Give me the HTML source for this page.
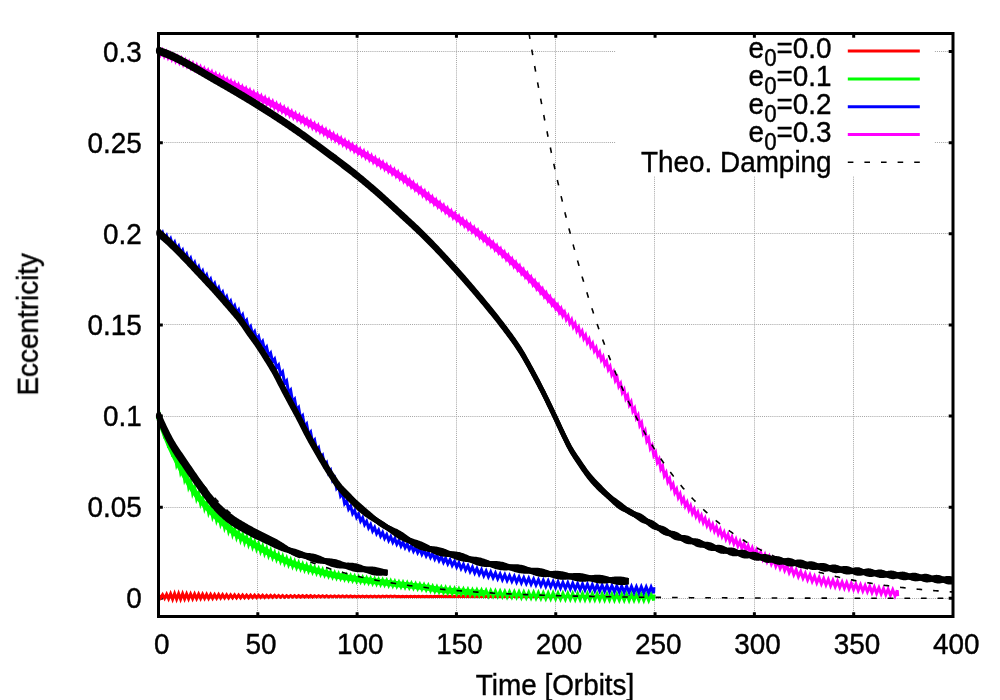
<!DOCTYPE html>
<html><head><meta charset="utf-8"><title>Eccentricity damping</title>
<style>html,body{margin:0;padding:0;background:#fff;}svg{display:block;}text{font-family:"Liberation Sans",sans-serif;}</style></head>
<body>
<svg width="1000" height="700" viewBox="0 0 1000 700"><g stroke="#a4a4a4" stroke-width="1" stroke-dasharray="1 1.083" fill="none"><line x1="257.5" y1="35.0" x2="257.5" y2="615.0"/><line x1="357.5" y1="35.0" x2="357.5" y2="615.0"/><line x1="456.5" y1="35.0" x2="456.5" y2="615.0"/><line x1="555.5" y1="35.0" x2="555.5" y2="615.0"/><line x1="654.5" y1="35.0" x2="654.5" y2="615.0"/><line x1="754.5" y1="35.0" x2="754.5" y2="615.0"/><line x1="853.5" y1="35.0" x2="853.5" y2="615.0"/><line x1="160.0" y1="598.5" x2="952.0" y2="598.5"/><line x1="160.0" y1="507.5" x2="952.0" y2="507.5"/><line x1="160.0" y1="416.5" x2="952.0" y2="416.5"/><line x1="160.0" y1="324.5" x2="952.0" y2="324.5"/><line x1="160.0" y1="233.5" x2="952.0" y2="233.5"/><line x1="160.0" y1="142.5" x2="952.0" y2="142.5"/><line x1="160.0" y1="51.5" x2="952.0" y2="51.5"/></g>
<rect x="616" y="36" width="318" height="140" fill="#fff"/>
<path d="M257.81 616.5v-4.3M257.81 33.5v4.3M357.12 616.5v-4.3M357.12 33.5v4.3M456.44 616.5v-4.3M456.44 33.5v4.3M555.75 616.5v-4.3M555.75 33.5v4.3M655.06 616.5v-4.3M655.06 33.5v4.3M754.38 616.5v-4.3M754.38 33.5v4.3M853.69 616.5v-4.3M853.69 33.5v4.3M158.5 598.30h4.3M953.0 598.30h-4.3M158.5 507.17h4.3M953.0 507.17h-4.3M158.5 416.04h4.3M953.0 416.04h-4.3M158.5 324.91h4.3M953.0 324.91h-4.3M158.5 233.78h4.3M953.0 233.78h-4.3M158.5 142.65h4.3M953.0 142.65h-4.3M158.5 51.52h4.3M953.0 51.52h-4.3" stroke="#000" stroke-width="3" fill="none"/>
<polyline fill="none" stroke="#ff0000" stroke-width="3" stroke-linejoin="miter" points="158.6,595.0 160.6,597.9 162.6,594.7 164.6,598.3 166.6,594.3 168.6,598.7 170.6,593.9 172.6,599.1 174.6,593.6 176.6,599.2 178.6,593.7 180.6,599.1 182.6,593.8 184.6,598.9 186.6,593.9 188.6,598.8 190.6,594.0 192.6,598.7 194.6,594.1 196.6,598.6 198.6,594.2 200.6,598.5 202.6,594.3 204.6,598.4 206.6,594.4 208.6,598.4 210.6,594.5 212.6,598.3 214.6,594.6 216.6,598.2 218.6,594.6 220.6,598.1 222.6,594.7 224.6,598.0 226.6,594.8 228.6,598.0 230.6,594.9 232.6,597.9 234.6,594.9 236.6,597.8 238.6,595.0 240.6,597.8 242.6,595.0 244.6,597.7 246.6,595.1 248.6,597.7 250.6,595.2 252.6,597.6 254.6,595.2 256.6,597.6 258.6,595.3 260.6,597.5 262.6,595.3 264.6,597.5 266.6,595.4 268.6,597.4 270.6,595.4 272.6,597.4 274.6,595.4 276.6,597.3 278.6,595.5 280.6,597.3 282.6,595.5 284.6,597.3 286.6,595.6 288.6,597.2 290.6,595.6 292.6,597.2 294.6,595.6 296.6,597.2 298.6,595.7 300.6,597.1 302.6,595.7 304.6,597.1 306.6,595.7 308.6,597.1 310.6,595.7 312.6,597.1 314.6,595.8 316.6,597.0 318.6,595.8 320.6,597.0 322.6,595.8 324.6,597.0 326.6,595.8 328.6,597.0 330.6,595.9 332.6,596.9 334.6,595.9 336.6,596.9 338.6,595.9 340.6,596.9 342.6,595.9 344.6,596.9 346.6,596.0 348.6,596.9 350.6,596.0 352.6,596.8 354.6,596.0 356.6,596.8 358.6,596.0 360.6,596.8 362.6,596.0 364.6,596.8 366.6,596.0 368.6,596.8 370.6,596.1 372.6,596.8 374.6,596.1 376.6,596.8 378.6,596.1 380.6,596.8 382.6,596.1 384.6,596.7 386.6,596.1 388.6,596.7 390.6,596.1 392.6,596.7 394.6,596.1 396.6,596.7 398.6,596.2 400.6,596.7 402.6,596.2 404.6,596.7 406.6,596.2 408.6,596.7 410.6,596.2 412.6,596.7 414.6,596.2 416.6,596.7 418.6,596.2 420.6,596.7 422.6,596.2 424.6,596.7 426.6,596.2 428.6,596.7 430.6,596.2 432.6,596.6 434.6,596.2 436.6,596.6 438.6,596.3 440.6,596.6 442.6,596.3 444.6,596.6 446.6,596.3 448.6,596.6 450.6,596.3 452.6,596.6 454.6,596.3 456.6,596.6 458.6,596.3 460.6,596.6 462.6,596.3 464.6,596.6 466.6,596.3 468.6,596.6 470.6,596.3 472.6,596.6 474.6,596.3 476.6,596.6 478.6,596.3 480.6,596.6 482.6,596.3 484.6,596.6 486.6,596.3 488.6,596.6 490.6,596.3 492.6,596.6 494.6,596.3 496.6,596.6 498.6,596.4 500.6,596.6 502.6,596.4 504.6,596.6 506.6,596.4 508.6,596.6 510.6,596.4 512.6,596.6 514.6,596.4 516.6,596.6 518.6,596.4 520.6,596.6 522.6,596.4 524.6,596.6 526.6,596.4 528.6,596.6 530.6,596.4 532.6,596.6 534.6,596.4 536.6,596.6 538.6,596.4 540.6,596.6 542.6,596.4 544.6,596.6 546.6,596.4 548.6,596.6 550.6,596.4 552.6,596.6 554.6,596.4 556.6,596.6 558.6,596.4 560.6,596.6 562.6,596.4 564.6,596.6 566.6,596.4 568.6,596.6 570.6,596.4 572.6,596.6 574.6,596.5 576.6,596.6 578.6,596.5 580.6,596.6 582.6,596.5 584.6,596.6 586.6,596.5 588.6,596.6 590.6,596.5 592.6,596.6 594.6,596.5 596.6,596.6 598.6,596.5 600.6,596.6 602.6,596.5 604.6,596.6 606.6,596.5 608.6,596.6 610.6,596.5 612.6,596.6 614.6,596.5 616.6,596.6 618.6,596.5 620.6,596.6 622.6,596.5 624.6,596.6 626.6,596.5 628.6,596.6 630.6,596.5 632.6,596.6 634.6,596.5 636.6,596.6 638.6,596.5 640.6,596.7 642.6,596.5 644.6,596.7 646.6,596.5 648.6,596.7 650.6,596.5 652.6,596.7 654.6,596.5 655.0,596.7"/>
<polyline fill="none" stroke="#00ff00" stroke-width="6" stroke-linejoin="round" points="158.6,416.1 160.6,421.8 162.6,427.4 164.6,432.7 166.6,437.8 168.6,442.7 170.6,447.4 172.6,451.8 174.6,455.9 176.6,460.0 178.6,463.9 180.6,467.7 182.6,471.5 184.6,475.2 186.6,478.9 188.6,482.5 190.6,485.9 192.6,489.0 194.6,492.0 196.6,494.8 198.6,497.4 200.6,499.9 202.6,502.3 204.6,504.7 206.6,506.9 208.6,509.0 210.6,511.1 212.6,513.1 214.6,515.1 216.6,517.0 218.6,518.8 220.6,520.6 222.6,522.4 224.6,524.2 226.6,525.9 228.6,527.7 230.6,529.4 232.6,531.1 234.6,532.7 236.6,534.1 238.6,535.5 240.6,536.7 242.6,537.9 244.6,539.1 246.6,540.3 248.6,541.4 250.6,542.5 252.6,543.7 254.6,544.9 256.6,546.0 258.6,547.2 260.6,548.3 262.6,549.4 264.6,550.5 266.6,551.5 268.6,552.6 270.6,553.6 272.6,554.6 274.6,555.6 276.6,556.5 278.6,557.5 280.6,558.4 282.6,559.4 284.6,560.3 286.6,561.1 288.6,562.0 290.6,562.7 292.6,563.5 294.6,564.2 296.6,564.9 298.6,565.5 300.6,566.1 302.6,566.7 304.6,567.3 306.6,567.9 308.6,568.4 310.6,569.0 312.6,569.5 314.6,570.1 316.6,570.6 318.6,571.2 320.6,571.7 322.6,572.3 324.6,572.8 326.6,573.3 328.6,573.8 330.6,574.3 332.6,574.7 334.6,575.2 336.6,575.6 338.6,576.0 340.6,576.3 342.6,576.7 344.6,577.0 346.6,577.4 348.6,577.7 350.6,578.0 352.6,578.3 354.6,578.6 356.6,578.9 358.6,579.2 360.6,579.5 362.6,579.8 364.6,580.0 366.6,580.3 368.6,580.5 370.6,580.8 372.6,581.0 374.6,581.3 376.6,581.5 378.6,581.8 380.6,582.1 382.6,582.3 384.6,582.5 386.6,582.8 388.6,583.0 390.6,583.3 392.6,583.5 394.6,583.8 396.6,584.0 398.6,584.2 400.6,584.5 402.6,584.7 404.6,584.9 406.6,585.1 408.6,585.3 410.6,585.5 412.6,585.8 414.6,586.0 416.6,586.2 418.6,586.4 420.6,586.7 422.6,587.0 424.6,587.3 426.6,587.6 428.6,587.9 430.6,588.3 432.6,588.6 434.6,589.0 436.6,589.3 438.6,589.5 440.6,589.8 442.6,590.0 444.6,590.2 446.6,590.4 448.6,590.5 450.6,590.7 452.6,590.9 454.6,591.1 456.6,591.2 458.6,591.4 460.6,591.5 462.6,591.7 464.6,591.8 466.6,591.9 468.6,592.1 470.6,592.2 472.6,592.3 474.6,592.4 476.6,592.6 478.6,592.7 480.6,592.8 482.6,592.9 484.6,593.0"/>
<polyline fill="none" stroke="#00ff00" stroke-width="3" stroke-linejoin="miter" points="158.6,410.3 160.6,427.5 162.6,421.8 164.6,438.2 166.6,432.6 168.6,447.9 170.6,442.4 172.6,456.6 174.6,451.2 176.6,464.6 178.6,459.3 180.6,472.2 182.6,466.9 184.6,479.7 186.6,474.4 188.6,486.9 190.6,481.6 192.6,493.2 194.6,487.9 196.6,498.7 198.6,493.5 200.6,503.8 202.6,498.5 204.6,508.5 206.6,503.1 208.6,512.8 210.6,507.4 212.6,516.8 214.6,511.4 216.6,520.6 218.6,515.2 220.6,524.2 222.6,518.8 224.6,527.8 226.6,522.3 228.6,531.3 230.6,525.8 232.6,534.7 234.6,529.2 236.6,537.6 238.6,532.0 240.6,540.2 242.6,534.5 244.6,542.5 246.6,536.9 248.6,544.7 250.6,539.2 252.6,547.0 254.6,541.6 256.6,549.2 258.6,543.9 260.6,551.5 262.6,546.2 264.6,553.6 266.6,548.4 268.6,555.7 270.6,550.5 272.6,557.6 274.6,552.6 276.6,559.5 278.6,554.5 280.6,561.4 282.6,556.4 284.6,563.2 286.6,558.3 288.6,564.8 290.6,559.9 292.6,566.3 294.6,561.4 296.6,567.6 298.6,562.8 300.6,568.8 302.6,564.1 304.6,570.0 306.6,565.2 308.6,571.1 310.6,566.4 312.6,572.1 314.6,567.5 316.6,573.2 318.6,568.7 320.6,574.2 322.6,569.8 324.6,575.2 326.6,570.9 328.6,576.2 330.6,571.9 332.6,577.1 334.6,572.8 336.6,577.9 338.6,573.7 340.6,578.6 342.6,574.4 344.6,579.3 346.6,575.1 348.6,580.0 350.6,575.7 352.6,580.6 354.6,576.3 356.6,581.2 358.6,576.9 360.6,581.8 362.6,577.5 364.6,582.3 366.6,578.0 368.6,582.8 370.6,578.5 372.6,583.4 374.6,579.0 376.6,583.9 378.6,579.5 380.6,584.4 382.6,580.0 384.6,584.9 386.7,580.5 388.7,585.4 390.7,581.0 392.8,585.8 394.8,581.5 396.8,586.3 398.9,582.0 401.0,586.8 403.0,582.4 405.1,587.3 407.2,582.9 409.3,587.7 411.4,583.3 413.5,588.2 415.6,583.8 417.7,588.6 419.8,584.3 421.9,589.2 424.0,584.8 426.2,589.9 428.3,585.5 430.5,590.6 432.6,586.3 434.8,591.4 436.9,586.9 439.1,592.0 441.3,587.4 443.5,592.5 445.6,587.8 447.8,592.9 450.0,588.2 452.2,593.3 454.5,588.6 456.7,593.7 458.9,588.9 461.1,594.0 463.4,589.2 465.6,594.4 467.9,589.5 470.1,594.7 472.4,589.8 474.7,595.0 476.9,590.0 479.2,595.3 481.5,590.3 483.8,595.6 486.1,590.5 488.4,595.9 490.7,590.7 493.1,596.1 495.4,591.0 497.7,596.4 500.1,591.2 502.4,596.6 504.8,591.4 507.1,596.9 509.5,591.6 511.9,597.1 514.3,591.8 516.6,597.3 519.0,591.9 521.4,597.6 523.8,592.1 526.3,597.8 528.7,592.3 531.1,598.0 533.6,592.4 536.0,598.2 538.4,592.6 540.9,598.4 543.3,592.8 545.8,598.6 548.2,592.9 550.7,598.8 553.1,593.0 555.6,598.9 558.0,593.2 560.5,599.1 562.9,593.3 565.4,599.3 567.8,593.4 570.3,599.4 572.7,593.5 575.2,599.5 577.6,593.6 580.1,599.6 582.5,593.7 585.0,599.7 587.4,593.8 589.9,599.8 592.3,593.9 594.8,599.9 597.2,593.9 599.7,600.0 602.1,594.0 604.6,600.1 607.0,594.1 609.5,600.1 611.9,594.2 614.4,600.2 616.8,594.2 619.3,600.3 621.7,594.3 624.2,600.3 626.6,594.3 629.1,600.4 631.5,594.4 634.0,600.4 636.4,594.4 638.9,600.4 641.3,594.5 643.8,600.5 646.2,594.5 648.7,600.5 651.1,594.5 653.6,600.5 653.9,594.5"/>
<polyline fill="none" stroke="#0000ff" stroke-width="3" stroke-linejoin="miter" points="158.6,230.1 160.6,236.2 162.6,232.7 164.6,239.0 166.6,235.6 168.6,242.1 170.6,238.7 172.6,245.5 174.6,242.2 176.6,249.2 178.6,246.1 180.6,253.2 182.6,250.1 184.6,257.3 186.6,254.1 188.6,261.3 190.6,258.2 192.6,265.5 194.6,262.4 196.6,269.7 198.6,266.6 200.6,273.9 202.6,270.8 204.6,278.0 206.6,274.9 208.6,282.2 210.6,279.1 212.6,286.4 214.6,283.3 216.6,290.7 218.6,287.6 220.6,295.0 222.6,292.0 224.6,299.5 226.6,296.5 228.6,304.0 230.6,301.0 232.6,308.5 234.6,305.5 236.6,313.0 238.6,310.0 240.6,317.8 242.6,314.8 244.6,323.0 246.6,320.3 248.6,329.3 250.6,326.5 252.6,334.7 254.6,331.7 256.6,339.5 258.6,336.5 260.6,344.4 262.6,341.5 264.6,349.9 266.6,347.1 268.6,355.8 270.6,353.1 272.6,361.8 274.6,359.0 276.6,367.7 278.6,365.0 280.6,374.5 282.6,371.9 284.6,383.2 286.6,380.8 288.6,392.4 290.6,390.0 292.6,401.6 294.6,399.2 296.6,410.1 298.6,407.6 300.6,418.3 302.6,415.8 304.6,426.5 306.6,424.0 308.6,434.6 310.6,432.1 312.6,442.5 314.6,440.0 316.6,450.4 318.6,447.8 320.6,458.0 322.6,455.5 324.6,465.5 326.6,462.9 328.6,472.9 330.6,470.3 332.6,480.4 334.6,477.9 336.6,488.1 338.6,485.5 340.6,496.0 342.6,493.5 344.6,503.6 346.6,500.9 348.6,509.1 350.6,506.1 352.6,513.5 354.6,510.4 356.6,517.4 358.6,514.2 360.6,521.1 362.6,517.8 364.6,524.6 366.6,521.3 368.6,527.9 370.6,524.5 372.6,530.9 374.6,527.4 376.6,533.6 378.6,530.1 380.6,536.1 382.6,532.5 384.6,538.3 386.7,534.6 388.7,540.4 390.7,536.6 392.8,542.3 394.8,538.5 396.8,544.2 398.9,540.4 401.0,546.0 403.0,542.2 405.1,547.7 407.2,543.9 409.3,549.4 411.4,545.6 413.5,551.1 415.6,547.2 417.7,552.7 419.8,548.8 421.9,554.3 424.0,550.4 426.2,555.9 428.3,552.0 430.5,557.5 432.6,553.5 434.8,559.1 436.9,555.1 439.1,560.7 441.3,556.6 443.5,562.3 445.6,558.2 447.8,563.9 450.0,559.7 452.2,565.5 454.5,561.3 456.7,567.1 458.9,562.8 461.1,568.6 463.4,564.3 465.6,570.1 467.9,565.7 470.1,571.6 472.4,567.2 474.7,573.0 476.9,568.5 479.2,574.4 481.5,569.8 483.8,575.7 486.1,571.0 488.4,576.8 490.7,572.0 493.1,577.8 495.4,573.0 497.7,578.8 500.1,573.9 502.4,579.7 504.8,574.8 507.1,580.6 509.5,575.6 511.9,581.4 514.3,576.3 516.6,582.2 519.0,577.0 521.4,582.9 523.8,577.7 526.3,583.6 528.7,578.3 531.1,584.3 533.6,579.0 536.0,585.0 538.4,579.7 540.9,585.7 543.3,580.3 545.8,586.4 548.2,580.9 550.7,587.0 553.1,581.5 555.6,587.6 558.0,582.0 560.5,588.1 562.9,582.4 565.4,588.5 567.8,582.8 570.3,589.0 572.7,583.2 575.2,589.4 577.6,583.6 580.1,589.8 582.5,583.9 585.0,590.1 587.4,584.3 589.9,590.4 592.3,584.6 594.8,590.7 597.2,584.9 599.7,591.0 602.1,585.2 604.6,591.3 607.0,585.4 609.5,591.5 611.9,585.7 614.4,591.8 616.8,585.9 619.3,592.0 621.7,586.1 624.2,592.2 626.6,586.3 629.1,592.4 631.5,586.5 634.0,592.6 636.4,586.7 638.9,592.8 641.3,586.8 643.8,592.9 646.2,587.0 648.7,593.1 651.1,587.1 653.6,593.2 653.9,587.2"/>
<polyline fill="none" stroke="#ff00ff" stroke-width="6" stroke-linejoin="round" points="158.6,51.4 160.6,52.2 162.6,53.1 164.6,53.9 166.6,54.7 168.6,55.6 170.6,56.4 172.6,57.3 174.6,58.2 176.6,59.0 178.6,59.9 180.6,60.7 182.6,61.6 184.6,62.5 186.6,63.4 188.6,64.2 190.6,65.1 192.6,66.0 194.6,66.9 196.6,67.8 198.6,68.7 200.6,69.6 202.6,70.5 204.6,71.4 206.6,72.3 208.6,73.2 210.6,74.1 212.6,75.1 214.6,76.0 216.6,76.9 218.6,77.8 220.6,78.8 222.6,79.7 224.6,80.7 226.6,81.6 228.6,82.6 230.6,83.5 232.6,84.5 234.6,85.4 236.6,86.4 238.6,87.4 240.6,88.3 242.6,89.3 244.6,90.3 246.6,91.3 248.6,92.3 250.6,93.2 252.6,94.2 254.6,95.2 256.6,96.2 258.6,97.2 260.6,98.2 262.6,99.2 264.6,100.2 266.6,101.2 268.6,102.2 270.6,103.2 272.6,104.2 274.6,105.2 276.6,106.2 278.6,107.3 280.6,108.3 282.6,109.3 284.6,110.4 286.6,111.4 288.6,112.4 290.6,113.5 292.6,114.5 294.6,115.6 296.6,116.6 298.6,117.7 300.6,118.7 302.6,119.8 304.6,120.9 306.6,121.9 308.6,123.0 310.6,124.1 312.6,125.2 314.6,126.2 316.6,127.3 318.6,128.4 320.6,129.5 322.6,130.6 324.6,131.7 326.6,132.8 328.6,134.0 330.6,135.1 332.6,136.2 334.6,137.3 336.6,138.4 338.6,139.5 340.6,140.7 342.6,141.8 344.6,142.9 346.6,144.1 348.6,145.2 350.6,146.3 352.6,147.5 354.6,148.6 356.6,149.8 358.6,150.9 360.6,152.1 362.6,153.2 364.6,154.4 366.6,155.5 368.6,156.7 370.6,157.9 372.6,159.1 374.6,160.2 376.6,161.4 378.6,162.6 380.6,163.9 382.6,165.1 384.6,166.3 386.6,167.5 388.6,168.8 390.6,170.0 392.6,171.3 394.6,172.6 396.6,173.8 398.6,175.2 400.6,176.5 402.6,177.8 404.6,179.2 406.6,180.6 408.6,182.0 410.6,183.5 412.6,185.0 414.6,186.5 416.6,188.0 418.6,189.5 420.6,190.9 422.6,192.4 424.6,193.9 426.6,195.4 428.6,197.0 430.6,198.5 432.6,200.0 434.6,201.5 436.6,203.0 438.6,204.5 440.6,205.9 442.6,207.4 444.6,208.8 446.6,210.3 448.6,211.7 450.6,213.1 452.6,214.6 454.6,216.0 456.6,217.4 458.6,218.9 460.6,220.3 462.6,221.8 464.6,223.3 466.6,224.7 468.6,226.2 470.6,227.7 472.6,229.2 474.6,230.7 476.6,232.2 478.6,233.7 480.6,235.3 482.6,236.8 484.6,238.4 486.6,240.0 488.6,241.6 490.6,243.3 492.6,244.9 494.6,246.5 496.6,248.2 498.6,249.9 500.6,251.6 502.6,253.3 504.6,255.1 506.6,256.8 508.6,258.6 510.6,260.4 512.6,262.2 514.6,264.1 516.6,265.9 518.6,267.8 520.6,269.7 522.6,271.7 524.6,273.6 526.6,275.5 528.6,277.5 530.6,279.5 532.6,281.5 534.6,283.5 536.6,285.6 538.6,287.7 540.6,289.8 542.6,291.9 544.6,294.0 546.6,296.1 548.6,298.3 550.6,300.4 552.6,302.5 554.6,304.6 556.6,306.7 558.6,308.8 560.6,310.9 562.6,312.9 564.6,315.0"/>
<polyline fill="none" stroke="#ff00ff" stroke-width="3" stroke-linejoin="miter" points="158.6,49.1 160.5,54.5 162.4,50.6 164.3,56.1 166.2,52.2 168.1,57.7 170.0,53.8 171.9,59.3 173.8,55.5 175.7,61.0 177.6,57.1 179.5,62.6 181.4,58.7 183.3,64.3 185.2,60.4 187.1,65.9 189.0,62.1 190.9,67.6 192.8,63.7 194.7,69.3 196.6,65.4 198.5,71.0 200.4,67.1 202.3,72.7 204.2,68.9 206.1,74.4 208.0,70.6 209.9,76.2 211.8,72.3 213.7,77.9 215.6,74.1 217.5,79.7 219.4,75.9 221.3,81.5 223.2,77.6 225.1,83.3 227.0,79.4 228.9,85.1 230.8,81.3 232.7,86.9 234.6,83.1 236.5,88.7 238.4,84.9 240.3,90.6 242.2,86.8 244.1,92.4 246.0,88.6 247.9,94.3 249.8,90.5 251.7,96.2 253.6,92.4 255.5,98.0 257.4,94.2 259.3,99.9 261.2,96.1 263.1,101.8 265.0,98.0 266.9,103.7 268.8,99.9 270.7,105.6 272.6,101.8 274.5,107.6 276.4,103.8 278.3,109.5 280.2,105.7 282.1,111.4 284.0,107.7 285.9,113.4 287.8,109.6 289.7,115.4 291.6,111.6 293.5,117.4 295.4,113.6 297.3,119.4 299.2,115.6 301.1,121.4 303.0,117.6 304.9,123.4 306.8,119.6 308.7,125.4 310.6,121.7 312.5,127.5 314.4,123.8 316.3,129.6 318.2,125.8 320.1,131.6 322.0,127.9 323.9,133.7 325.8,130.0 327.7,135.8 329.6,132.1 331.5,138.0 333.4,134.2 335.3,140.1 337.2,136.4 339.1,142.2 341.0,138.5 342.9,144.4 344.8,140.7 346.7,146.5 348.6,142.8 350.5,148.7 352.4,145.0 354.3,150.8 356.2,147.1 358.1,153.0 360.0,149.3 361.9,155.2 363.8,151.5 365.7,157.4 367.6,153.7 369.5,159.6 371.4,155.9 373.3,161.9 375.2,158.2 377.1,164.1 379.0,160.5 380.9,166.5 382.8,162.8 384.7,168.8 386.6,165.1 388.5,171.1 390.4,167.5 392.3,173.5 394.2,169.9 396.1,175.9 398.0,172.3 399.9,178.4 401.8,174.9 403.7,181.0 405.6,177.4 407.5,183.7 409.4,180.2 411.3,186.5 413.2,183.0 415.1,189.3 417.0,185.8 418.9,192.1 420.8,188.6 422.7,195.0 424.6,191.5 426.5,197.8 428.4,194.3 430.3,200.7 432.2,197.2 434.1,203.6 436.0,200.1 437.9,206.4 439.8,202.9 441.7,209.2 443.6,205.7 445.5,211.9 447.4,208.4 449.3,214.6 451.2,211.1 453.1,217.4 455.0,213.8 456.9,220.1 458.8,216.6 460.7,222.8 462.6,219.3 464.5,225.6 466.4,222.1 468.3,228.5 470.2,225.0 472.1,231.3 474.0,227.8 475.9,234.1 477.8,230.7 479.7,237.1 481.6,233.6 483.5,240.0 485.4,236.6 487.3,243.1 489.2,239.6 491.1,246.1 493.0,242.7 494.9,249.3 496.8,245.9 498.7,252.5 500.6,249.1 502.5,255.7 504.4,252.4 506.3,259.1 508.2,255.7 510.1,262.5 512.0,259.1 513.9,266.0 515.8,262.6 517.7,269.5 519.6,266.2 521.5,273.1 523.4,269.9 525.3,276.8 527.2,273.6 529.1,280.6 531.0,277.3 532.9,284.4 534.8,281.2 536.7,288.3 538.6,285.1 540.5,292.3 542.4,289.1 544.3,296.3 546.2,293.1 548.1,300.3 550.0,297.1 551.9,304.4 553.8,301.2 555.7,308.4 557.6,305.2 559.3,312.2 561.1,308.8 562.8,315.8 564.6,312.4 566.3,319.4 568.1,316.1 569.8,323.1 571.6,319.7 573.3,326.8 575.1,323.5 576.8,330.7 578.6,327.3 580.3,334.5 582.1,331.2 583.8,338.5 585.6,335.2 587.3,342.5 589.1,339.2 590.8,346.6 592.6,343.4 594.3,350.9 596.1,347.7 597.8,355.3 599.6,352.1 601.3,359.9 603.1,356.7 604.8,364.6 606.6,361.5 608.3,369.6 610.1,366.5 611.8,374.8 613.6,371.7 615.3,380.5 617.1,377.4 618.8,386.4 620.6,383.4 622.3,392.5 624.1,389.5 625.8,398.7 627.6,395.6 629.3,404.9 631.1,401.8 632.8,411.3 634.6,408.2 636.3,418.0 638.1,415.0 639.8,425.5 641.6,422.5 643.3,433.4 645.1,430.4 646.8,441.2 648.6,438.1 650.3,448.4 652.1,445.4 653.8,455.4 655.6,452.4 657.3,462.3 659.1,459.2 660.8,469.1 662.6,466.0 664.3,475.8 666.1,472.6 667.8,481.8 669.6,478.6 671.3,487.3 673.1,484.0 674.8,492.6 676.6,489.2 678.3,497.5 680.1,494.0 681.8,502.0 683.6,498.4 685.3,506.0 687.1,502.3 688.9,509.7 690.6,505.9 692.4,513.2 694.2,509.3 696.0,516.4 697.8,512.5 699.6,519.5 701.4,515.6 703.3,522.5 705.1,518.5 707.0,525.5 708.8,521.4 710.7,528.4 712.6,524.3 714.5,531.2 716.4,527.0 718.3,533.9 720.2,529.7 722.1,536.5 724.1,532.3 726.0,539.1 728.0,534.7 729.9,541.5 731.9,537.1 733.9,543.8 735.9,539.3 737.9,546.0 739.9,541.5 741.9,548.2 744.0,543.6 746.0,550.3 748.1,545.7 750.2,552.5 752.2,547.8 754.3,554.7 756.4,550.0 758.5,557.0 760.7,552.3 762.8,559.3 764.9,554.6 767.1,561.6 769.3,556.8 771.4,563.9 773.6,559.1 775.8,566.2 778.0,561.3 780.2,568.3 782.5,563.5 784.7,570.5 787.0,565.6 789.2,572.7 791.5,567.8 793.8,574.7 796.1,569.8 798.4,576.6 800.7,571.6 803.0,578.3 805.3,573.3 807.6,579.9 809.9,574.8 812.2,581.4 814.5,576.3 816.8,582.8 819.1,577.5 821.4,583.9 823.7,578.6 826.0,584.9 828.3,579.5 830.6,585.8 832.9,580.4 835.2,586.6 837.5,581.2 839.8,587.4 842.1,582.0 844.4,588.2 846.7,582.7 849.0,588.9 851.3,583.4 853.6,589.5 855.9,584.1 858.2,590.3 860.5,584.8 862.8,591.0 865.1,585.6 867.4,591.8 869.7,586.4 872.0,592.6 874.3,587.1 876.6,593.3 878.9,587.8 881.2,594.0 883.5,588.5 885.8,594.7 888.1,589.2 890.4,595.3 892.7,589.8 895.0,595.9 897.3,590.3 897.7,596.2"/>
<polyline fill="none" stroke="#000" stroke-width="1.6" stroke-dasharray="5.6 11" points="158.5,416.0 160.5,419.8 162.5,423.6 164.5,427.2 166.5,430.8 168.5,434.3 170.4,437.7 172.4,441.1 174.4,444.4 176.4,447.6 178.4,450.7 180.4,453.8 182.4,456.8 184.4,459.8 186.4,462.7 188.4,465.5 190.4,468.3 192.4,471.0 194.3,473.7 196.3,476.3 198.3,478.8 200.3,481.3 202.3,483.8 204.3,486.2 206.3,488.5 208.3,490.8 210.3,493.1 212.3,495.3 214.3,497.4 216.2,499.5 218.2,501.6 220.2,503.6 222.2,505.6 224.2,507.5 226.2,509.4 228.2,511.3 230.2,513.1 232.2,514.9 234.2,516.6 236.2,518.3 238.1,520.0 240.1,521.6 242.1,523.2 244.1,524.8 246.1,526.3 248.1,527.9 250.1,529.3 252.1,530.8 254.1,532.2 256.1,533.6 258.1,534.9 260.1,536.2 262.0,537.5 264.0,538.8 266.0,540.0 268.0,541.3 270.0,542.5 272.0,543.6 274.0,544.8 276.0,545.9 278.0,547.0 280.0,548.1 282.0,549.1 283.9,550.1 285.9,551.1 287.9,552.1 289.9,553.1 291.9,554.0 293.9,555.0 295.9,555.9 297.9,556.8 299.9,557.6 301.9,558.5 303.9,559.3 305.9,560.1 307.8,560.9 309.8,561.7 311.8,562.5 313.8,563.2 315.8,563.9 317.8,564.7 319.8,565.4 321.8,566.1 323.8,566.7 325.8,567.4 327.8,568.0 329.7,568.7 331.7,569.3 333.7,569.9 335.7,570.5 337.7,571.1 339.7,571.6 341.7,572.2 343.7,572.7 345.7,573.3 347.7,573.8 349.7,574.3 351.6,574.8 353.6,575.3 355.6,575.8 357.6,576.3 359.6,576.7 361.6,577.2 363.6,577.6 365.6,578.0 367.6,578.5 369.6,578.9 371.6,579.3 373.6,579.7 375.5,580.1 377.5,580.5 379.5,580.8 381.5,581.2 383.5,581.5 385.5,581.9 387.5,582.2 389.5,582.6 391.5,582.9 393.5,583.2 395.5,583.5 397.4,583.9 399.4,584.2 401.4,584.4 403.4,584.7 405.4,585.0 407.4,585.3 409.4,585.6 411.4,585.8 413.4,586.1 415.4,586.4 417.4,586.6 419.4,586.8 421.3,587.1 423.3,587.3 425.3,587.5 427.3,587.8 429.3,588.0 431.3,588.2 433.3,588.4 435.3,588.6 437.3,588.8 439.3,589.0 441.3,589.2 443.2,589.4 445.2,589.6 447.2,589.8 449.2,590.0 451.2,590.1 453.2,590.3 455.2,590.5 457.2,590.6 459.2,590.8 461.2,590.9 463.2,591.1 465.1,591.3 467.1,591.4 469.1,591.5 471.1,591.7 473.1,591.8 475.1,592.0 477.1,592.1 479.1,592.2 481.1,592.3 483.1,592.5 485.1,592.6 487.1,592.7 489.0,592.8 491.0,592.9 493.0,593.1 495.0,593.2 497.0,593.3 499.0,593.4 501.0,593.5 503.0,593.6 505.0,593.7 507.0,593.8 509.0,593.9 510.9,594.0 512.9,594.1 514.9,594.1 516.9,594.2 518.9,594.3 520.9,594.4 522.9,594.5 524.9,594.6 526.9,594.6 528.9,594.7 530.9,594.8 532.9,594.9 534.8,594.9 536.8,595.0 538.8,595.1 540.8,595.1 542.8,595.2 544.8,595.3 546.8,595.3 548.8,595.4 550.8,595.5 552.8,595.5 554.8,595.6 556.7,595.6 558.7,595.7 560.7,595.7 562.7,595.8 564.7,595.8 566.7,595.9 568.7,596.0 570.7,596.0 572.7,596.0 574.7,596.1 576.7,596.1 578.6,596.2 580.6,596.2 582.6,596.3 584.6,596.3 586.6,596.4 588.6,596.4 590.6,596.4 592.6,596.5 594.6,596.5 596.6,596.6 598.6,596.6 600.6,596.6 602.5,596.7 604.5,596.7 606.5,596.7 608.5,596.8 610.5,596.8 612.5,596.8 614.5,596.9 616.5,596.9 618.5,596.9 620.5,596.9 622.5,597.0 624.4,597.0 626.4,597.0 628.4,597.1 630.4,597.1 632.4,597.1 634.4,597.1 636.4,597.2 638.4,597.2 640.4,597.2 642.4,597.2 644.4,597.2 646.4,597.3 648.3,597.3 650.3,597.3 652.3,597.3 654.3,597.4 656.3,597.4 658.3,597.4 660.3,597.4 662.3,597.4 664.3,597.4 666.3,597.5 668.3,597.5 670.2,597.5 672.2,597.5 674.2,597.5 676.2,597.5 678.2,597.6 680.2,597.6 682.2,597.6 684.2,597.6 686.2,597.6 688.2,597.6 690.2,597.7 692.1,597.7 694.1,597.7 696.1,597.7 698.1,597.7 700.1,597.7 702.1,597.7 704.1,597.7 706.1,597.8 708.1,597.8 710.1,597.8 712.1,597.8 714.1,597.8 716.0,597.8 718.0,597.8 720.0,597.8 722.0,597.8 724.0,597.8 726.0,597.9 728.0,597.9 730.0,597.9 732.0,597.9 734.0,597.9 736.0,597.9 737.9,597.9 739.9,597.9 741.9,597.9 743.9,597.9 745.9,597.9 747.9,597.9 749.9,598.0 751.9,598.0 753.9,598.0 755.9,598.0 757.9,598.0 759.9,598.0 761.8,598.0 763.8,598.0 765.8,598.0 767.8,598.0 769.8,598.0 771.8,598.0 773.8,598.0 775.8,598.0 777.8,598.0 779.8,598.0 781.8,598.1 783.7,598.1 785.7,598.1 787.7,598.1 789.7,598.1 791.7,598.1 793.7,598.1 795.7,598.1 797.7,598.1 799.7,598.1 801.7,598.1 803.7,598.1 805.6,598.1 807.6,598.1 809.6,598.1 811.6,598.1 813.6,598.1 815.6,598.1 817.6,598.1 819.6,598.1 821.6,598.1 823.6,598.1 825.6,598.1 827.6,598.1 829.5,598.2 831.5,598.2 833.5,598.2 835.5,598.2 837.5,598.2 839.5,598.2 841.5,598.2 843.5,598.2 845.5,598.2 847.5,598.2 849.5,598.2 851.4,598.2 853.4,598.2 855.4,598.2 857.4,598.2 859.4,598.2 861.4,598.2 863.4,598.2 865.4,598.2 867.4,598.2 869.4,598.2 871.4,598.2 873.4,598.2 875.3,598.2 877.3,598.2 879.3,598.2 881.3,598.2 883.3,598.2 885.3,598.2 887.3,598.2 889.3,598.2 891.3,598.2 893.3,598.2 895.3,598.2 897.2,598.2 899.2,598.2 901.2,598.2 903.2,598.2 905.2,598.2 907.2,598.2 909.2,598.2 911.2,598.2 913.2,598.2 915.2,598.2 917.2,598.2 919.1,598.2 921.1,598.2 923.1,598.2 925.1,598.2 927.1,598.2 929.1,598.2 931.1,598.2 933.1,598.3 935.1,598.3 937.1,598.3 939.1,598.3 941.1,598.3 943.0,598.3 945.0,598.3 947.0,598.3 949.0,598.3 951.0,598.3 953.0,598.3"/>
<polyline fill="none" stroke="#000" stroke-width="1.6" stroke-dasharray="5.6 11" points="529.0,33.3 530.1,39.6 531.1,45.9 532.2,52.1 533.3,58.2 534.3,64.3 535.4,70.2 536.4,76.2 537.5,82.0 538.6,87.8 539.6,93.5 540.7,99.2 541.8,104.8 542.8,110.3 543.9,115.8 544.9,121.2 546.0,126.5 547.1,131.8 548.1,137.1 549.2,142.2 550.3,147.3 551.3,152.4 552.4,157.4 553.5,162.3 554.5,167.2 555.6,172.1 556.6,176.8 557.7,181.6 558.8,186.2 559.8,190.8 560.9,195.4 562.0,199.9 563.0,204.4 564.1,208.8 565.1,213.2 566.2,217.5 567.3,221.8 568.3,226.0 569.4,230.2 570.5,234.3 571.5,238.4 572.6,242.4 573.6,246.4 574.7,250.3 575.8,254.2 576.8,258.1 577.9,261.9 579.0,265.7 580.0,269.4 581.1,273.1 582.1,276.7 583.2,280.3 584.3,283.9 585.3,287.4 586.4,290.9 587.5,294.4 588.5,297.8 589.6,301.1 590.6,304.5 591.7,307.8 592.8,311.0 593.8,314.2 594.9,317.4 596.0,320.6 597.0,323.7 598.1,326.8 599.1,329.8 600.2,332.8 601.3,335.8 602.3,338.7 603.4,341.6 604.5,344.5 605.5,347.4 606.6,350.2 607.6,353.0 608.7,355.7 609.8,358.4 610.8,361.1 611.9,363.8 613.0,366.4 614.0,369.0 615.1,371.6 616.1,374.1 617.2,376.6 618.3,379.1 619.3,381.6 620.4,384.0 621.5,386.4 622.5,388.8 623.6,391.1 624.6,393.4 625.7,395.7 626.8,398.0 627.8,400.3 628.9,402.5 630.0,404.7 631.0,406.8 632.1,409.0 633.1,411.1 634.2,413.2 635.3,415.3 636.3,417.3 637.4,419.4 638.5,421.4 639.5,423.4 640.6,425.3 641.6,427.3 642.7,429.2 643.8,431.1 644.8,432.9 645.9,434.8 647.0,436.6 648.0,438.4 649.1,440.2 650.1,442.0 651.2,443.8 652.3,445.5 653.3,447.2 654.4,448.9 655.5,450.6 656.5,452.2 657.6,453.9 658.7,455.5 659.7,457.1 660.8,458.7 661.8,460.2 662.9,461.8 664.0,463.3 665.0,464.8 666.1,466.3 667.2,467.8 668.2,469.3 669.3,470.7 670.3,472.1 671.4,473.5 672.5,474.9 673.5,476.3 674.6,477.7 675.7,479.0 676.7,480.4 677.8,481.7 678.8,483.0 679.9,484.3 681.0,485.6 682.0,486.8 683.1,488.1 684.2,489.3 685.2,490.6 686.3,491.8 687.3,493.0 688.4,494.1 689.5,495.3 690.5,496.5 691.6,497.6 692.7,498.7 693.7,499.8 694.8,500.9 695.8,502.0 696.9,503.1 698.0,504.2 699.0,505.2 700.1,506.3 701.2,507.3 702.2,508.3 703.3,509.3 704.3,510.3 705.4,511.3 706.5,512.3 707.5,513.3 708.6,514.2 709.7,515.2 710.7,516.1 711.8,517.0 712.8,517.9 713.9,518.8 715.0,519.7 716.0,520.6 717.1,521.5 718.2,522.3 719.2,523.2 720.3,524.0 721.3,524.9 722.4,525.7 723.5,526.5 724.5,527.3 725.6,528.1 726.7,528.9 727.7,529.7 728.8,530.4 729.8,531.2 730.9,531.9 732.0,532.7 733.0,533.4 734.1,534.1 735.2,534.9 736.2,535.6 737.3,536.3 738.3,537.0 739.4,537.7 740.5,538.3 741.5,539.0 742.6,539.7 743.7,540.3 744.7,541.0 745.8,541.6 746.8,542.3 747.9,542.9 749.0,543.5 750.0,544.1 751.1,544.7 752.2,545.3 753.2,545.9 754.3,546.5 755.4,547.1 756.4,547.7 757.5,548.2 758.5,548.8 759.6,549.4 760.7,549.9 761.7,550.4 762.8,551.0 763.9,551.5 764.9,552.0 766.0,552.6 767.0,553.1 768.1,553.6 769.2,554.1 770.2,554.6 771.3,555.1 772.4,555.5 773.4,556.0 774.5,556.5 775.5,557.0 776.6,557.4 777.7,557.9 778.7,558.3 779.8,558.8 780.9,559.2 781.9,559.7 783.0,560.1 784.0,560.5 785.1,561.0 786.2,561.4 787.2,561.8 788.3,562.2 789.4,562.6 790.4,563.0 791.5,563.4 792.5,563.8 793.6,564.2 794.7,564.6 795.7,564.9 796.8,565.3 797.9,565.7 798.9,566.0 800.0,566.4 801.0,566.8 802.1,567.1 803.2,567.5 804.2,567.8 805.3,568.2 806.4,568.5 807.4,568.8 808.5,569.2 809.5,569.5 810.6,569.8 811.7,570.1 812.7,570.4 813.8,570.8 814.9,571.1 815.9,571.4 817.0,571.7 818.0,572.0 819.1,572.3 820.2,572.6 821.2,572.8 822.3,573.1 823.4,573.4 824.4,573.7 825.5,574.0 826.5,574.2 827.6,574.5 828.7,574.8 829.7,575.0 830.8,575.3 831.9,575.6 832.9,575.8 834.0,576.1 835.0,576.3 836.1,576.6 837.2,576.8 838.2,577.0 839.3,577.3 840.4,577.5 841.4,577.8 842.5,578.0 843.5,578.2 844.6,578.4 845.7,578.7 846.7,578.9 847.8,579.1 848.9,579.3 849.9,579.5 851.0,579.7 852.0,579.9 853.1,580.1 854.2,580.4 855.2,580.6 856.3,580.8 857.4,580.9 858.4,581.1 859.5,581.3 860.6,581.5 861.6,581.7 862.7,581.9 863.7,582.1 864.8,582.3 865.9,582.4 866.9,582.6 868.0,582.8 869.1,583.0 870.1,583.1 871.2,583.3 872.2,583.5 873.3,583.6 874.4,583.8 875.4,584.0 876.5,584.1 877.6,584.3 878.6,584.5 879.7,584.6 880.7,584.8 881.8,584.9 882.9,585.1 883.9,585.2 885.0,585.4 886.1,585.5 887.1,585.6 888.2,585.8 889.2,585.9 890.3,586.1 891.4,586.2 892.4,586.3 893.5,586.5 894.6,586.6 895.6,586.7 896.7,586.9 897.7,587.0 898.8,587.1 899.9,587.2 900.9,587.4 902.0,587.5 903.1,587.6 904.1,587.7 905.2,587.9 906.2,588.0 907.3,588.1 908.4,588.2 909.4,588.3 910.5,588.4 911.6,588.5 912.6,588.6 913.7,588.8 914.7,588.9 915.8,589.0 916.9,589.1 917.9,589.2 919.0,589.3 920.1,589.4 921.1,589.5 922.2,589.6 923.2,589.7 924.3,589.8 925.4,589.9 926.4,590.0 927.5,590.1 928.6,590.1 929.6,590.2 930.7,590.3 931.7,590.4 932.8,590.5 933.9,590.6 934.9,590.7 936.0,590.8 937.1,590.9 938.1,590.9 939.2,591.0 940.2,591.1 941.3,591.2 942.4,591.3 943.4,591.3 944.5,591.4 945.6,591.5 946.6,591.6 947.7,591.6 948.7,591.7 949.8,591.8 950.9,591.9 951.9,591.9 953.0,592.0"/>
<g transform="scale(1 1.3182)"><polyline fill="none" stroke="#000" stroke-width="4.4" stroke-linejoin="round" stroke-linecap="butt" points="158.6,317.63 159.6,319.41 160.6,321.16 161.6,322.88 162.6,324.57 163.6,326.23 164.6,327.86 165.6,329.46 166.6,331.02 167.6,332.54 168.6,334.02 169.6,335.47 170.6,336.87 171.6,338.23 172.6,339.55 173.6,340.82 174.6,342.06 175.6,343.26 176.6,344.44 177.6,345.59 178.6,346.73 179.6,347.84 180.6,348.95 181.6,350.05 182.6,351.16 183.6,352.26 184.6,353.38 185.6,354.50 186.6,355.64 187.6,356.77 188.6,357.89 189.6,359.01 190.6,360.12 191.6,361.23 192.6,362.33 193.6,363.43 194.6,364.52 195.6,365.61 196.6,366.70 197.6,367.77 198.6,368.85 199.6,369.92 200.6,370.98 201.6,372.04 202.6,373.09 203.6,374.14 204.6,375.16 205.6,376.19 206.6,377.21 207.6,378.22 208.6,379.22 209.6,380.20 210.6,381.14 211.6,382.06 212.6,382.96 213.6,383.84 214.6,384.70 215.6,385.55 216.6,386.38 217.6,387.18 218.6,387.96 219.6,388.71 220.6,389.45 221.6,390.16 222.6,390.86 223.6,391.55 224.6,392.21 225.6,392.85 226.6,393.46 227.6,394.06 228.6,394.64 229.6,395.20 230.6,395.75 231.6,396.29 232.6,396.81 233.6,397.32 234.6,397.81 235.6,398.30 236.6,398.77 237.6,399.23 238.6,399.67 239.6,400.11 240.6,400.54 241.6,400.97 242.6,401.39 243.6,401.81 244.6,402.23 245.6,402.65 246.6,403.05 247.6,403.46 248.6,403.86 249.6,404.26 250.6,404.65 251.6,405.04 252.6,405.43 253.6,405.81 254.6,406.19 255.6,406.57 256.6,406.94 257.6,407.31 258.6,407.68 259.6,408.05 260.6,408.41 261.6,408.77 262.6,409.13 263.6,409.49 264.6,409.84 265.6,410.17 266.6,410.50 267.6,410.84 268.6,411.19 269.6,411.54 270.6,411.91 271.6,412.28 272.6,412.65 273.6,413.03 274.6,413.40 275.6,413.78 276.6,414.14 277.6,414.50 278.6,414.84 279.6,415.17 280.6,415.48 281.6,415.78 282.6,416.05 283.6,416.31 284.6,416.56 285.6,416.78 286.6,417.00 287.6,417.20 288.6,417.39 289.6,417.58 290.6,417.76 291.6,417.94 292.6,418.12 293.6,418.31 294.6,418.51 295.6,418.72 296.6,418.95 297.6,419.19 298.6,419.46 299.6,419.74 300.6,420.04 301.6,420.36 302.6,420.69 303.6,421.04 304.6,421.39 305.6,421.76 306.6,422.13 307.6,422.50 308.6,422.86 309.6,423.20 310.6,423.52 311.6,423.82 312.6,424.10 313.6,424.35 314.6,424.58 315.6,424.79 316.6,424.97 317.6,425.12 318.6,425.24 319.6,425.34 320.6,425.42 321.6,425.49 322.6,425.54 323.6,425.57 324.6,425.60 325.6,425.63 326.6,425.66 327.6,425.69 328.6,425.73 329.6,425.78 330.6,425.84 331.6,425.93 332.6,426.03 333.6,426.16 334.6,426.31 335.6,426.48 336.6,426.68 337.6,426.90 338.6,427.14 339.6,427.40 340.6,427.68 341.6,427.98 342.6,428.28 343.6,428.60 344.6,428.92 345.6,429.23 346.6,429.55 347.6,429.85 348.6,430.15 349.6,430.43 350.6,430.69 351.6,430.93 352.6,431.15 353.6,431.34 354.6,431.51 355.6,431.65 356.6,431.76 357.6,431.85 358.6,431.92 359.6,431.96 360.6,431.99 361.6,432.00 362.6,432.00 363.6,431.98 364.6,431.97 365.6,431.94 366.6,431.92 367.6,431.91 368.6,431.90 369.6,431.91 370.6,431.93 371.6,431.96 372.6,432.02 373.6,432.10 374.6,432.20 375.6,432.32 376.6,432.46 377.6,432.62 378.6,432.81 379.6,433.01 380.6,433.22 381.6,433.45 382.6,433.69 383.6,433.93 384.6,434.18 385.6,434.42 386.6,434.66 387.5,434.87"/></g>
<g transform="scale(1 1.3182)"><polyline fill="none" stroke="#000" stroke-width="4.4" stroke-linejoin="round" stroke-linecap="butt" points="158.6,315.66 159.6,317.44 160.6,319.19 161.6,320.91 162.6,322.60 163.6,324.26 164.6,325.89 165.6,327.48 166.6,329.04 167.6,330.57 168.6,332.05 169.6,333.50 170.6,334.90 171.6,336.26 172.6,337.58 173.6,338.85 174.6,340.09 175.6,341.29 176.6,342.47 177.6,343.62 178.6,344.75 179.6,345.87 180.6,346.98 181.6,348.08 182.6,349.18 183.6,350.29 184.6,351.40 185.6,352.53 186.6,353.67 187.6,354.80 188.6,355.92 189.6,357.04 190.6,358.15 191.6,359.25 192.6,360.36 193.6,361.46 194.6,362.55 195.6,363.64 196.6,364.72 197.6,365.80 198.6,366.87 199.6,367.94 200.6,369.01 201.6,370.07 202.6,371.12 203.6,372.16 204.6,373.19 205.6,374.22 206.6,375.24 207.6,376.25 208.6,377.25 209.6,378.22 210.6,379.17 211.6,380.08 212.6,380.98 213.6,381.87 214.6,382.73 215.6,383.58 216.6,384.40 217.6,385.21 218.6,385.99 219.6,386.74 220.6,387.47 221.6,388.19 222.6,388.89 223.6,389.57 224.6,390.24 225.6,390.88 226.6,391.51 227.6,392.11 228.6,392.71 229.6,393.28 230.6,393.84 231.6,394.39 232.6,394.92 233.6,395.44 234.6,395.95 235.6,396.45 236.6,396.93 237.6,397.40 238.6,397.85 239.6,398.30 240.6,398.75 241.6,399.18 242.6,399.62 243.6,400.05 244.6,400.48 245.6,400.91 246.6,401.33 247.6,401.74 248.6,402.16 249.6,402.56 250.6,402.97 251.6,403.37 252.6,403.77 253.6,404.16 254.6,404.55 255.6,404.94 256.6,405.33 257.6,405.71 258.6,406.09 259.6,406.47 260.6,406.84 261.6,407.21 262.6,407.58 263.6,407.95 264.6,408.32 265.6,408.68 266.6,409.05 267.6,409.41 268.6,409.77 269.6,410.14 270.6,410.50 271.6,410.87 272.6,411.24 273.6,411.61 274.6,411.99 275.6,412.38 276.6,412.77 277.6,413.16 278.6,413.55 279.6,413.94 280.6,414.33 281.6,414.72 282.6,415.10 283.6,415.48 284.6,415.86 285.6,416.22 286.6,416.58 287.6,416.94 288.6,417.28 289.6,417.61 290.6,417.93 291.6,418.23 292.6,418.52 293.6,418.80 294.6,419.07 295.6,419.33 296.6,419.59 297.6,419.84 298.6,420.08 299.6,420.32 300.6,420.55 301.6,420.78 302.6,421.01 303.6,421.23 304.6,421.44 305.6,421.66 306.6,421.87 307.6,422.08 308.6,422.29 309.6,422.49 310.6,422.70 311.6,422.90 312.6,423.11 313.6,423.32 314.6,423.52 315.6,423.73 316.6,423.94 317.6,424.14 318.6,424.35 319.6,424.55 320.6,424.75 321.6,424.95 322.6,425.14 323.6,425.34 324.6,425.54 325.6,425.73 326.6,425.92 327.6,426.11 328.6,426.30 329.6,426.48 330.6,426.66 331.6,426.84 332.6,427.02 333.6,427.20 334.6,427.37 335.6,427.54 336.6,427.71 337.6,427.88 338.6,428.04 339.6,428.20 340.6,428.36 341.6,428.52 342.6,428.67 343.6,428.83 344.6,428.98 345.6,429.13 346.6,429.28 347.6,429.43 348.6,429.58 349.6,429.73 350.6,429.87 351.6,430.02 352.6,430.16 353.6,430.31 354.6,430.45 355.6,430.59 356.6,430.74 357.6,430.88 358.6,431.02 359.6,431.17 360.6,431.31 361.6,431.46 362.6,431.61 363.6,431.75 364.6,431.90 365.6,432.04 366.6,432.19 367.6,432.33 368.6,432.47 369.6,432.61 370.6,432.75 371.6,432.88 372.6,433.01 373.6,433.14 374.6,433.26 375.6,433.38 376.6,433.49 377.6,433.60 378.6,433.70 379.6,433.80 380.6,433.90 381.6,433.99 382.6,434.08 383.6,434.16 384.6,434.24 385.6,434.32 386.6,434.40 387.5,434.46"/></g>
<g transform="scale(1 1.3182)"><polyline fill="none" stroke="#000" stroke-width="4.4" stroke-linejoin="round" stroke-linecap="butt" points="158.6,313.69 159.6,315.46 160.6,317.21 161.6,318.94 162.6,320.63 163.6,322.29 164.6,323.92 165.6,325.51 166.6,327.07 167.6,328.60 168.6,330.08 169.6,331.52 170.6,332.93 171.6,334.29 172.6,335.61 173.6,336.88 174.6,338.12 175.6,339.32 176.6,340.50 177.6,341.65 178.6,342.78 179.6,343.90 180.6,345.01 181.6,346.11 182.6,347.21 183.6,348.32 184.6,349.43 185.6,350.56 186.6,351.69 187.6,352.82 188.6,353.95 189.6,355.06 190.6,356.18 191.6,357.28 192.6,358.39 193.6,359.48 194.6,360.58 195.6,361.67 196.6,362.75 197.6,363.83 198.6,364.90 199.6,365.97 200.6,367.04 201.6,368.10 202.6,369.15 203.6,370.19 204.6,371.22 205.6,372.24 206.6,373.27 207.6,374.28 208.6,375.28 209.6,376.25 210.6,377.20 211.6,378.11 212.6,379.01 213.6,379.89 214.6,380.76 215.6,381.61 216.6,382.43 217.6,383.23 218.6,384.01 219.6,384.77 220.6,385.50 221.6,386.22 222.6,386.92 223.6,387.60 224.6,388.26 225.6,388.91 226.6,389.55 227.6,390.17 228.6,390.77 229.6,391.36 230.6,391.93 231.6,392.49 232.6,393.04 233.6,393.57 234.6,394.09 235.6,394.60 236.6,395.09 237.6,395.57 238.6,396.04 239.6,396.50 240.6,396.95 241.6,397.40 242.6,397.85 243.6,398.29 244.6,398.73 245.6,399.17 246.6,399.60 247.6,400.03 248.6,400.45 249.6,400.87 250.6,401.29 251.6,401.70 252.6,402.11 253.6,402.52 254.6,402.92 255.6,403.32 256.6,403.71 257.6,404.11 258.6,404.50 259.6,404.89 260.6,405.28 261.6,405.66 262.6,406.04 263.6,406.42 264.6,406.80 265.6,407.19 266.6,407.59 267.6,407.98 268.6,408.36 269.6,408.73 270.6,409.09 271.6,409.46 272.6,409.82 273.6,410.20 274.6,410.59 275.6,410.99 276.6,411.40 277.6,411.82 278.6,412.26 279.6,412.71 280.6,413.18 281.6,413.66 282.6,414.15 283.6,414.65 284.6,415.16 285.6,415.66 286.6,416.17 287.6,416.67 288.6,417.16 289.6,417.63 290.6,418.09 291.6,418.52 292.6,418.92 293.6,419.29 294.6,419.64 295.6,419.95 296.6,420.23 297.6,420.48 298.6,420.71 299.6,420.90 300.6,421.06 301.6,421.20 302.6,421.32 303.6,421.42 304.6,421.50 305.6,421.56 306.6,421.60 307.6,421.66 308.6,421.72 309.6,421.79 310.6,421.88 311.6,421.99 312.6,422.12 313.6,422.28 314.6,422.46 315.6,422.67 316.6,422.91 317.6,423.17 318.6,423.45 319.6,423.75 320.6,424.07 321.6,424.41 322.6,424.75 323.6,425.11 324.6,425.47 325.6,425.83 326.6,426.18 327.6,426.53 328.6,426.86 329.6,427.18 330.6,427.48 331.6,427.76 332.6,428.01 333.6,428.23 334.6,428.43 335.6,428.60 336.6,428.74 337.6,428.85 338.6,428.94 339.6,429.00 340.6,429.04 341.6,429.06 342.6,429.07 343.6,429.06 344.6,429.05 345.6,429.03 346.6,429.02 347.6,429.01 348.6,429.01 349.6,429.02 350.6,429.05 351.6,429.10 352.6,429.17 353.6,429.27 354.6,429.39 355.6,429.53 356.6,429.71 357.6,429.90 358.6,430.13 359.6,430.37 360.6,430.64 361.6,430.92 362.6,431.22 363.6,431.52 364.6,431.83 365.6,432.14 366.6,432.45 367.6,432.75 368.6,433.04 369.6,433.31 370.6,433.56 371.6,433.79 372.6,434.00 373.6,434.17 374.6,434.32 375.6,434.43 376.6,434.52 377.6,434.57 378.6,434.60 379.6,434.60 380.6,434.58 381.6,434.53 382.6,434.47 383.6,434.39 384.6,434.31 385.6,434.22 386.6,434.13 387.5,434.06"/></g>
<ellipse cx="158.6" cy="416.1" rx="2.7" ry="4.0" fill="#000"/>
<g transform="scale(1 1.3182)"><polyline fill="none" stroke="#000" stroke-width="4.4" stroke-linejoin="round" stroke-linecap="butt" points="158.9,177.90 159.9,178.54 160.9,179.20 161.9,179.86 162.9,180.53 163.9,181.20 164.9,181.88 165.9,182.56 166.9,183.26 167.9,183.96 168.9,184.67 169.9,185.38 170.9,186.11 171.9,186.84 172.9,187.58 173.9,188.32 174.9,189.08 175.9,189.84 176.9,190.60 177.9,191.37 178.9,192.14 179.9,192.91 180.9,193.69 181.9,194.47 182.9,195.25 183.9,196.03 184.9,196.82 185.9,197.61 186.9,198.41 187.9,199.21 188.9,200.02 189.9,200.83 190.9,201.64 191.9,202.45 192.9,203.27 193.9,204.08 194.9,204.89 195.9,205.71 196.9,206.52 197.9,207.33 198.9,208.14 199.9,208.95 200.9,209.75 201.9,210.55 202.9,211.36 203.9,212.16 204.9,212.97 205.9,213.78 206.9,214.59 207.9,215.40 208.9,216.22 209.9,217.04 210.9,217.86 211.9,218.70 212.9,219.53 213.9,220.37 214.9,221.21 215.9,222.06 216.9,222.91 217.9,223.76 218.9,224.62 219.9,225.48 220.9,226.34 221.9,227.21 222.9,228.08 223.9,228.95 224.9,229.83 225.9,230.71 226.9,231.59 227.9,232.47 228.9,233.34 229.9,234.21 230.9,235.08 231.9,235.96 232.9,236.84 233.9,237.73 234.9,238.62 235.9,239.53 236.9,240.45 237.9,241.39 238.9,242.35 239.9,243.33 240.9,244.33 241.9,245.38 242.9,246.47 243.9,247.59 244.9,248.73 245.9,249.85 246.9,250.96 247.9,252.04 248.9,253.10 249.9,254.15 250.9,255.19 251.9,256.23 252.9,257.28 253.9,258.32 254.9,259.38 255.9,260.46 256.9,261.55 257.9,262.67 258.9,263.81 259.9,264.97 260.9,266.14 261.9,267.33 262.9,268.53 263.9,269.74 264.9,270.96 265.9,272.19 266.9,273.41 267.9,274.64 268.9,275.88 269.9,277.12 270.9,278.37 271.9,279.65 272.9,280.94 273.9,282.27 274.9,283.62 275.9,285.02 276.9,286.47 277.9,287.94 278.9,289.44 279.9,290.94 280.9,292.43 281.9,293.90 282.9,295.35 283.9,296.80 284.9,298.24 285.9,299.68 286.9,301.11 287.9,302.54 288.9,303.96 289.9,305.38 290.9,306.78 291.9,308.17 292.9,309.56 293.9,310.95 294.9,312.34 295.9,313.74 296.9,315.16 297.9,316.59 298.9,318.05 299.9,319.53 300.9,321.02 301.9,322.52 302.9,324.02 303.9,325.52 304.9,327.01 305.9,328.49 306.9,329.95 307.9,331.39 308.9,332.79 309.9,334.18 310.9,335.55 311.9,336.90 312.9,338.24 313.9,339.57 314.9,340.89 315.9,342.20 316.9,343.50 317.9,344.80 318.9,346.09 319.9,347.39 320.9,348.68 321.9,349.97 322.9,351.26 323.9,352.53 324.9,353.79 325.9,355.04 326.9,356.27 327.9,357.49 328.9,358.68 329.9,359.86 330.9,361.04 331.9,362.22 332.9,363.39 333.9,364.55 334.9,365.68 335.9,366.80 336.9,367.88 337.9,368.93 338.9,369.94 339.9,370.90 340.9,371.81 341.9,372.68 342.9,373.50 343.9,374.30 344.9,375.07 345.9,375.83 346.9,376.58 347.9,377.33 348.9,378.10 349.9,378.87 350.9,379.63 351.9,380.39 352.9,381.15 353.9,381.91 354.9,382.66 355.9,383.40 356.9,384.12 357.9,384.82 358.9,385.51 359.9,386.18 360.9,386.84 361.9,387.47 362.9,388.09 363.9,388.69 364.9,389.28 365.9,389.84 366.9,390.38 367.9,390.90 368.9,391.41 369.9,391.90 370.9,392.38 371.9,392.85 372.9,393.30 373.9,393.75 374.9,394.19 375.9,394.63 376.9,395.07 377.9,395.52 378.9,395.97 379.9,396.42 380.9,396.89 381.9,397.37 382.9,397.85 383.9,398.35 384.9,398.86 385.9,399.39 386.9,399.93 387.9,400.47 388.9,401.03 389.9,401.60 390.9,402.17 391.9,402.74 392.9,403.32 393.9,403.89 394.9,404.45 395.9,405.00 396.9,405.53 397.9,406.04 398.9,406.53 399.9,406.99 400.9,407.43 401.9,407.83 402.9,408.20 403.9,408.54 404.9,408.86 405.9,409.15 406.9,409.44 407.9,409.70 408.9,409.96 409.9,410.21 410.9,410.45 411.9,410.69 412.9,410.92 413.9,411.15 414.9,411.38 415.9,411.60 416.9,411.84 417.9,412.09 418.9,412.36 419.9,412.65 420.9,412.96 421.9,413.29 422.9,413.63 423.9,413.99 424.9,414.37 425.9,414.76 426.9,415.15 427.9,415.56 428.9,415.96 429.9,416.37 430.9,416.76 431.9,417.15 432.9,417.53 433.9,417.89 434.9,418.23 435.9,418.55 436.9,418.84 437.9,419.10 438.9,419.34 439.9,419.55 440.9,419.73 441.9,419.88 442.9,420.01 443.9,420.11 444.9,420.18 445.9,420.24 446.9,420.28 447.9,420.31 448.9,420.33 449.9,420.35 450.9,420.36 451.9,420.38 452.9,420.42 453.9,420.46 454.9,420.52 455.9,420.60 456.9,420.71 457.9,420.84 458.9,420.99 459.9,421.18 460.9,421.39 461.9,421.63 462.9,421.90 463.9,422.19 464.9,422.50 465.9,422.83 466.9,423.18 467.9,423.53 468.9,423.90 469.9,424.27 470.9,424.64 471.9,425.00 472.9,425.36 473.9,425.70 474.9,426.03 475.9,426.33 476.9,426.61 477.9,426.87 478.9,427.09 479.9,427.29 480.9,427.46 481.9,427.60 482.9,427.71 483.9,427.79 484.9,427.85 485.9,427.88 486.9,427.89 487.9,427.89 488.9,427.87 489.9,427.85 490.9,427.83 491.9,427.80 492.9,427.79 493.9,427.78 494.9,427.78 495.9,427.81 496.9,427.85 497.9,427.91 498.9,427.99 499.9,428.10 500.9,428.24 501.9,428.40 502.9,428.58 503.9,428.78 504.9,429.01 505.9,429.26 506.9,429.52 507.9,429.79 508.9,430.07 509.9,430.35 510.9,430.64 511.9,430.92 512.9,431.19 513.9,431.46 514.9,431.70 515.9,431.94 516.9,432.15 517.9,432.34 518.9,432.50 519.9,432.64 520.9,432.76 521.9,432.85 522.9,432.92 523.9,432.96 524.9,432.99 525.9,433.00 526.9,432.99 527.9,432.97 528.9,432.94 529.9,432.91 530.9,432.88 531.9,432.85 532.9,432.83 533.9,432.82 534.9,432.83 535.9,432.86 536.9,432.90 537.9,432.97 538.9,433.06 539.9,433.17 540.9,433.31 541.9,433.48 542.9,433.66 543.9,433.87 544.9,434.10 545.9,434.35 546.9,434.61 547.9,434.88 548.9,435.16 549.9,435.44 550.9,435.71 551.9,435.98 552.9,436.24 553.9,436.48 554.9,436.71 555.9,436.91 556.9,437.10 557.9,437.25 558.9,437.39 559.9,437.49 560.9,437.57 561.9,437.62 562.9,437.64 563.9,437.64 564.9,437.61 565.9,437.57 566.9,437.51 567.9,437.44 568.9,437.35 569.9,437.26 570.9,437.17 571.9,437.08 572.9,437.00 573.9,436.93 574.9,436.88 575.9,436.84 576.9,436.82 577.9,436.83 578.9,436.86 579.9,436.91 580.9,436.99 581.9,437.10 582.9,437.23 583.9,437.38 584.9,437.56 585.9,437.75 586.9,437.96 587.9,438.18 588.9,438.41 589.9,438.65 590.9,438.88 591.9,439.11 592.9,439.34 593.9,439.55 594.9,439.75 595.9,439.93 596.9,440.09 597.9,440.22 598.9,440.33 599.9,440.42 600.9,440.48 601.9,440.51 602.9,440.52 603.9,440.50 604.9,440.46 605.9,440.40 606.9,440.33 607.9,440.24 608.9,440.14 609.9,440.04 610.9,439.93 611.9,439.83 612.9,439.74 613.9,439.65 614.9,439.58 615.9,439.52 616.9,439.49 617.9,439.47 618.9,439.48 619.9,439.52 620.9,439.57 621.9,439.66 622.9,439.76 623.9,439.89 624.9,440.03 625.9,440.19 626.9,440.36 627.9,440.55 628.6,440.68"/></g>
<g transform="scale(1 1.3182)"><polyline fill="none" stroke="#000" stroke-width="4.4" stroke-linejoin="round" stroke-linecap="butt" points="158.9,176.83 159.9,177.48 160.9,178.14 161.9,178.80 162.9,179.46 163.9,180.14 164.9,180.82 165.9,181.50 166.9,182.20 167.9,182.90 168.9,183.60 169.9,184.32 170.9,185.04 171.9,185.78 172.9,186.52 173.9,187.26 174.9,188.01 175.9,188.77 176.9,189.54 177.9,190.31 178.9,191.08 179.9,191.85 180.9,192.63 181.9,193.41 182.9,194.19 183.9,194.97 184.9,195.76 185.9,196.55 186.9,197.35 187.9,198.15 188.9,198.96 189.9,199.77 190.9,200.58 191.9,201.39 192.9,202.20 193.9,203.02 194.9,203.83 195.9,204.65 196.9,205.46 197.9,206.27 198.9,207.08 199.9,207.88 200.9,208.69 201.9,209.49 202.9,210.30 203.9,211.10 204.9,211.91 205.9,212.72 206.9,213.53 207.9,214.34 208.9,215.16 209.9,215.98 210.9,216.80 211.9,217.63 212.9,218.47 213.9,219.31 214.9,220.15 215.9,221.00 216.9,221.85 217.9,222.70 218.9,223.56 219.9,224.42 220.9,225.28 221.9,226.15 222.9,227.02 223.9,227.89 224.9,228.77 225.9,229.65 226.9,230.53 227.9,231.41 228.9,232.28 229.9,233.15 230.9,234.02 231.9,234.90 232.9,235.78 233.9,236.66 234.9,237.56 235.9,238.47 236.9,239.39 237.9,240.33 238.9,241.29 239.9,242.26 240.9,243.26 241.9,244.31 242.9,245.41 243.9,246.53 244.9,247.66 245.9,248.79 246.9,249.90 247.9,250.98 248.9,252.04 249.9,253.09 250.9,254.13 251.9,255.17 252.9,256.21 253.9,257.26 254.9,258.32 255.9,259.39 256.9,260.49 257.9,261.61 258.9,262.75 259.9,263.91 260.9,265.08 261.9,266.27 262.9,267.47 263.9,268.68 264.9,269.90 265.9,271.12 266.9,272.35 267.9,273.58 268.9,274.81 269.9,276.06 270.9,277.31 271.9,278.59 272.9,279.88 273.9,281.20 274.9,282.56 275.9,283.96 276.9,285.40 277.9,286.88 278.9,288.38 279.9,289.88 280.9,291.37 281.9,292.84 282.9,294.29 283.9,295.74 284.9,297.18 285.9,298.62 286.9,300.05 287.9,301.48 288.9,302.90 289.9,304.32 290.9,305.72 291.9,307.11 292.9,308.50 293.9,309.89 294.9,311.28 295.9,312.68 296.9,314.10 297.9,315.53 298.9,316.99 299.9,318.47 300.9,319.96 301.9,321.46 302.9,322.96 303.9,324.46 304.9,325.95 305.9,327.43 306.9,328.89 307.9,330.32 308.9,331.73 309.9,333.12 310.9,334.49 311.9,335.84 312.9,337.18 313.9,338.51 314.9,339.82 315.9,341.13 316.9,342.44 317.9,343.73 318.9,345.03 319.9,346.33 320.9,347.62 321.9,348.91 322.9,350.19 323.9,351.47 324.9,352.73 325.9,353.98 326.9,355.21 327.9,356.42 328.9,357.61 329.9,358.79 330.9,359.98 331.9,361.16 332.9,362.33 333.9,363.48 334.9,364.62 335.9,365.73 336.9,366.82 337.9,367.87 338.9,368.87 339.9,369.84 340.9,370.75 341.9,371.61 342.9,372.44 343.9,373.24 344.9,374.01 345.9,374.77 346.9,375.52 347.9,376.27 348.9,377.03 349.9,377.81 350.9,378.58 351.9,379.35 352.9,380.12 353.9,380.88 354.9,381.63 355.9,382.36 356.9,383.08 357.9,383.77 358.9,384.45 359.9,385.12 360.9,385.78 361.9,386.42 362.9,387.06 363.9,387.69 364.9,388.30 365.9,388.91 366.9,389.51 367.9,390.10 368.9,390.68 369.9,391.26 370.9,391.83 371.9,392.39 372.9,392.94 373.9,393.49 374.9,394.03 375.9,394.56 376.9,395.09 377.9,395.61 378.9,396.12 379.9,396.63 380.9,397.13 381.9,397.63 382.9,398.12 383.9,398.60 384.9,399.08 385.9,399.55 386.9,400.01 387.9,400.48 388.9,400.94 389.9,401.40 390.9,401.85 391.9,402.31 392.9,402.77 393.9,403.22 394.9,403.68 395.9,404.13 396.9,404.59 397.9,405.04 398.9,405.49 399.9,405.93 400.9,406.37 401.9,406.81 402.9,407.25 403.9,407.67 404.9,408.10 405.9,408.52 406.9,408.94 407.9,409.36 408.9,409.78 409.9,410.19 410.9,410.60 411.9,411.00 412.9,411.39 413.9,411.76 414.9,412.11 415.9,412.45 416.9,412.78 417.9,413.10 418.9,413.41 419.9,413.71 420.9,414.01 421.9,414.30 422.9,414.59 423.9,414.86 424.9,415.13 425.9,415.39 426.9,415.65 427.9,415.90 428.9,416.15 429.9,416.38 430.9,416.62 431.9,416.84 432.9,417.06 433.9,417.28 434.9,417.49 435.9,417.70 436.9,417.90 437.9,418.10 438.9,418.29 439.9,418.49 440.9,418.68 441.9,418.87 442.9,419.05 443.9,419.24 444.9,419.42 445.9,419.60 446.9,419.78 447.9,419.97 448.9,420.15 449.9,420.33 450.9,420.51 451.9,420.70 452.9,420.88 453.9,421.07 454.9,421.26 455.9,421.45 456.9,421.65 457.9,421.84 458.9,422.04 459.9,422.24 460.9,422.44 461.9,422.65 462.9,422.85 463.9,423.06 464.9,423.26 465.9,423.47 466.9,423.67 467.9,423.88 468.9,424.08 469.9,424.29 470.9,424.49 471.9,424.69 472.9,424.89 473.9,425.09 474.9,425.29 475.9,425.48 476.9,425.67 477.9,425.86 478.9,426.05 479.9,426.23 480.9,426.41 481.9,426.58 482.9,426.75 483.9,426.92 484.9,427.08 485.9,427.24 486.9,427.39 487.9,427.54 488.9,427.69 489.9,427.84 490.9,427.98 491.9,428.12 492.9,428.25 493.9,428.39 494.9,428.52 495.9,428.65 496.9,428.78 497.9,428.91 498.9,429.04 499.9,429.16 500.9,429.29 501.9,429.41 502.9,429.53 503.9,429.65 504.9,429.77 505.9,429.89 506.9,430.01 507.9,430.13 508.9,430.25 509.9,430.37 510.9,430.49 511.9,430.61 512.9,430.73 513.9,430.85 514.9,430.97 515.9,431.09 516.9,431.21 517.9,431.33 518.9,431.45 519.9,431.58 520.9,431.71 521.9,431.83 522.9,431.96 523.9,432.09 524.9,432.22 525.9,432.36 526.9,432.49 527.9,432.63 528.9,432.76 529.9,432.89 530.9,433.03 531.9,433.17 532.9,433.30 533.9,433.44 534.9,433.57 535.9,433.70 536.9,433.84 537.9,433.97 538.9,434.10 539.9,434.23 540.9,434.36 541.9,434.49 542.9,434.62 543.9,434.74 544.9,434.87 545.9,434.99 546.9,435.11 547.9,435.22 548.9,435.34 549.9,435.45 550.9,435.56 551.9,435.67 552.9,435.77 553.9,435.87 554.9,435.97 555.9,436.06 556.9,436.16 557.9,436.25 558.9,436.34 559.9,436.43 560.9,436.52 561.9,436.60 562.9,436.69 563.9,436.77 564.9,436.85 565.9,436.93 566.9,437.01 567.9,437.09 568.9,437.17 569.9,437.25 570.9,437.32 571.9,437.40 572.9,437.47 573.9,437.55 574.9,437.62 575.9,437.69 576.9,437.76 577.9,437.83 578.9,437.90 579.9,437.97 580.9,438.04 581.9,438.11 582.9,438.18 583.9,438.25 584.9,438.32 585.9,438.39 586.9,438.46 587.9,438.53 588.9,438.59 589.9,438.66 590.9,438.73 591.9,438.80 592.9,438.87 593.9,438.94 594.9,439.01 595.9,439.08 596.9,439.15 597.9,439.22 598.9,439.29 599.9,439.36 600.9,439.43 601.9,439.49 602.9,439.56 603.9,439.63 604.9,439.70 605.9,439.76 606.9,439.83 607.9,439.89 608.9,439.96 609.9,440.02 610.9,440.08 611.9,440.14 612.9,440.20 613.9,440.26 614.9,440.32 615.9,440.37 616.9,440.43 617.9,440.48 618.9,440.53 619.9,440.58 620.9,440.63 621.9,440.67 622.9,440.71 623.9,440.75 624.9,440.79 625.9,440.83 626.9,440.86 627.9,440.89 628.6,440.91"/></g>
<g transform="scale(1 1.3182)"><polyline fill="none" stroke="#000" stroke-width="4.4" stroke-linejoin="round" stroke-linecap="butt" points="158.9,175.77 159.9,176.42 160.9,177.07 161.9,177.73 162.9,178.40 163.9,179.07 164.9,179.75 165.9,180.44 166.9,181.13 167.9,181.83 168.9,182.54 169.9,183.26 170.9,183.98 171.9,184.71 172.9,185.45 173.9,186.20 174.9,186.95 175.9,187.71 176.9,188.48 177.9,189.24 178.9,190.02 179.9,190.79 180.9,191.57 181.9,192.35 182.9,193.13 183.9,193.91 184.9,194.70 185.9,195.49 186.9,196.29 187.9,197.09 188.9,197.89 189.9,198.70 190.9,199.51 191.9,200.33 192.9,201.14 193.9,201.96 194.9,202.77 195.9,203.58 196.9,204.40 197.9,205.21 198.9,206.01 199.9,206.82 200.9,207.63 201.9,208.43 202.9,209.23 203.9,210.04 204.9,210.85 205.9,211.65 206.9,212.46 207.9,213.28 208.9,214.09 209.9,214.91 210.9,215.74 211.9,216.57 212.9,217.41 213.9,218.25 214.9,219.09 215.9,219.94 216.9,220.79 217.9,221.64 218.9,222.50 219.9,223.36 220.9,224.22 221.9,225.09 222.9,225.96 223.9,226.83 224.9,227.71 225.9,228.59 226.9,229.47 227.9,230.34 228.9,231.22 229.9,232.09 230.9,232.96 231.9,233.83 232.9,234.71 233.9,235.60 234.9,236.50 235.9,237.41 236.9,238.33 237.9,239.27 238.9,240.22 239.9,241.20 240.9,242.20 241.9,243.25 242.9,244.34 243.9,245.47 244.9,246.60 245.9,247.73 246.9,248.84 247.9,249.92 248.9,250.98 249.9,252.03 250.9,253.07 251.9,254.11 252.9,255.15 253.9,256.20 254.9,257.26 255.9,258.33 256.9,259.43 257.9,260.55 258.9,261.69 259.9,262.84 260.9,264.02 261.9,265.21 262.9,266.41 263.9,267.62 264.9,268.84 265.9,270.06 266.9,271.29 267.9,272.52 268.9,273.75 269.9,275.00 270.9,276.25 271.9,277.52 272.9,278.82 273.9,280.14 274.9,281.49 275.9,282.90 276.9,284.34 277.9,285.82 278.9,287.31 279.9,288.81 280.9,290.31 281.9,291.78 282.9,293.23 283.9,294.67 284.9,296.12 285.9,297.55 286.9,298.99 287.9,300.42 288.9,301.84 289.9,303.26 290.9,304.66 291.9,306.05 292.9,307.44 293.9,308.82 294.9,310.22 295.9,311.62 296.9,313.03 297.9,314.47 298.9,315.93 299.9,317.41 300.9,318.90 301.9,320.40 302.9,321.90 303.9,323.40 304.9,324.89 305.9,326.37 306.9,327.83 307.9,329.26 308.9,330.67 309.9,332.06 310.9,333.42 311.9,334.78 312.9,336.12 313.9,337.44 314.9,338.76 315.9,340.07 316.9,341.37 317.9,342.67 318.9,343.97 319.9,345.26 320.9,346.56 321.9,347.85 322.9,349.13 323.9,350.41 324.9,351.67 325.9,352.92 326.9,354.15 327.9,355.36 328.9,356.55 329.9,357.73 330.9,358.92 331.9,360.09 332.9,361.27 333.9,362.42 334.9,363.56 335.9,364.67 336.9,365.76 337.9,366.80 338.9,367.81 339.9,368.77 340.9,369.69 341.9,370.55 342.9,371.38 343.9,372.17 344.9,372.95 345.9,373.70 346.9,374.46 347.9,375.21 348.9,375.97 349.9,376.74 350.9,377.53 351.9,378.32 352.9,379.09 353.9,379.85 354.9,380.60 355.9,381.32 356.9,382.03 357.9,382.72 358.9,383.39 359.9,384.06 360.9,384.72 361.9,385.37 362.9,386.03 363.9,386.68 364.9,387.33 365.9,387.98 366.9,388.64 367.9,389.29 368.9,389.95 369.9,390.61 370.9,391.27 371.9,391.93 372.9,392.58 373.9,393.23 374.9,393.86 375.9,394.49 376.9,395.10 377.9,395.70 378.9,396.28 379.9,396.84 380.9,397.38 381.9,397.89 382.9,398.38 383.9,398.85 384.9,399.29 385.9,399.71 386.9,400.10 387.9,400.48 388.9,400.85 389.9,401.20 390.9,401.54 391.9,401.88 392.9,402.21 393.9,402.56 394.9,402.91 395.9,403.27 396.9,403.64 397.9,404.03 398.9,404.44 399.9,404.87 400.9,405.32 401.9,405.80 402.9,406.29 403.9,406.80 404.9,407.33 405.9,407.88 406.9,408.44 407.9,409.02 408.9,409.60 409.9,410.18 410.9,410.75 411.9,411.31 412.9,411.85 413.9,412.37 414.9,412.85 415.9,413.30 416.9,413.72 417.9,414.10 418.9,414.46 419.9,414.78 420.9,415.06 421.9,415.32 422.9,415.54 423.9,415.73 424.9,415.89 425.9,416.03 426.9,416.15 427.9,416.25 428.9,416.33 429.9,416.40 430.9,416.47 431.9,416.53 432.9,416.60 433.9,416.67 434.9,416.75 435.9,416.85 436.9,416.96 437.9,417.09 438.9,417.25 439.9,417.43 440.9,417.63 441.9,417.85 442.9,418.10 443.9,418.37 444.9,418.66 445.9,418.97 446.9,419.29 447.9,419.62 448.9,419.97 449.9,420.31 450.9,420.66 451.9,421.01 452.9,421.35 453.9,421.68 454.9,422.00 455.9,422.30 456.9,422.58 457.9,422.85 458.9,423.09 459.9,423.30 460.9,423.49 461.9,423.66 462.9,423.80 463.9,423.92 464.9,424.02 465.9,424.10 466.9,424.17 467.9,424.22 468.9,424.27 469.9,424.30 470.9,424.34 471.9,424.38 472.9,424.42 473.9,424.48 474.9,424.55 475.9,424.63 476.9,424.73 477.9,424.86 478.9,425.00 479.9,425.17 480.9,425.36 481.9,425.57 482.9,425.80 483.9,426.05 484.9,426.32 485.9,426.60 486.9,426.90 487.9,427.20 488.9,427.51 489.9,427.82 490.9,428.13 491.9,428.43 492.9,428.72 493.9,429.00 494.9,429.26 495.9,429.50 496.9,429.72 497.9,429.92 498.9,430.09 499.9,430.23 500.9,430.34 501.9,430.43 502.9,430.49 503.9,430.52 504.9,430.54 505.9,430.53 506.9,430.51 507.9,430.48 508.9,430.43 509.9,430.39 510.9,430.34 511.9,430.29 512.9,430.26 513.9,430.23 514.9,430.23 515.9,430.24 516.9,430.27 517.9,430.33 518.9,430.41 519.9,430.52 520.9,430.65 521.9,430.82 522.9,431.01 523.9,431.22 524.9,431.46 525.9,431.72 526.9,431.99 527.9,432.28 528.9,432.58 529.9,432.88 530.9,433.18 531.9,433.48 532.9,433.77 533.9,434.05 534.9,434.31 535.9,434.55 536.9,434.78 537.9,434.98 538.9,435.15 539.9,435.30 540.9,435.42 541.9,435.51 542.9,435.57 543.9,435.61 544.9,435.63 545.9,435.63 546.9,435.60 547.9,435.57 548.9,435.52 549.9,435.47 550.9,435.41 551.9,435.36 552.9,435.30 553.9,435.26 554.9,435.23 555.9,435.22 556.9,435.22 557.9,435.24 558.9,435.29 559.9,435.37 560.9,435.46 561.9,435.59 562.9,435.73 563.9,435.90 564.9,436.09 565.9,436.29 566.9,436.52 567.9,436.75 568.9,436.99 569.9,437.23 570.9,437.47 571.9,437.71 572.9,437.94 573.9,438.16 574.9,438.36 575.9,438.54 576.9,438.70 577.9,438.84 578.9,438.95 579.9,439.04 580.9,439.10 581.9,439.13 582.9,439.14 583.9,439.12 584.9,439.08 585.9,439.03 586.9,438.95 587.9,438.87 588.9,438.78 589.9,438.68 590.9,438.58 591.9,438.49 592.9,438.40 593.9,438.33 594.9,438.27 595.9,438.23 596.9,438.21 597.9,438.21 598.9,438.24 599.9,438.30 600.9,438.37 601.9,438.48 602.9,438.61 603.9,438.76 604.9,438.93 605.9,439.13 606.9,439.33 607.9,439.55 608.9,439.78 609.9,440.00 610.9,440.23 611.9,440.46 612.9,440.67 613.9,440.87 614.9,441.06 615.9,441.22 616.9,441.37 617.9,441.48 618.9,441.58 619.9,441.64 620.9,441.68 621.9,441.69 622.9,441.67 623.9,441.62 624.9,441.56 625.9,441.47 626.9,441.36 627.9,441.23 628.6,441.14"/></g>
<ellipse cx="158.9" cy="233.1" rx="2.7" ry="4.0" fill="#000"/>
<g transform="scale(1 1.3182)"><polyline fill="none" stroke="#000" stroke-width="4.4" stroke-linejoin="round" stroke-linecap="butt" points="158.6,39.54 159.6,39.80 160.6,40.06 161.6,40.34 162.6,40.61 163.6,40.89 164.6,41.18 165.6,41.48 166.6,41.78 167.6,42.08 168.6,42.39 169.6,42.71 170.6,43.03 171.6,43.36 172.6,43.69 173.6,44.03 174.6,44.38 175.6,44.73 176.6,45.09 177.6,45.47 178.6,45.85 179.6,46.23 180.6,46.63 181.6,47.02 182.6,47.43 183.6,47.84 184.6,48.25 185.6,48.66 186.6,49.08 187.6,49.49 188.6,49.91 189.6,50.33 190.6,50.75 191.6,51.17 192.6,51.58 193.6,52.01 194.6,52.43 195.6,52.87 196.6,53.30 197.6,53.74 198.6,54.18 199.6,54.62 200.6,55.06 201.6,55.51 202.6,55.95 203.6,56.40 204.6,56.84 205.6,57.29 206.6,57.73 207.6,58.18 208.6,58.62 209.6,59.06 210.6,59.49 211.6,59.93 212.6,60.37 213.6,60.80 214.6,61.24 215.6,61.67 216.6,62.11 217.6,62.54 218.6,62.98 219.6,63.41 220.6,63.85 221.6,64.28 222.6,64.72 223.6,65.15 224.6,65.59 225.6,66.03 226.6,66.47 227.6,66.90 228.6,67.34 229.6,67.78 230.6,68.23 231.6,68.67 232.6,69.11 233.6,69.56 234.6,70.01 235.6,70.46 236.6,70.90 237.6,71.35 238.6,71.80 239.6,72.25 240.6,72.70 241.6,73.16 242.6,73.61 243.6,74.06 244.6,74.52 245.6,74.97 246.6,75.43 247.6,75.89 248.6,76.34 249.6,76.80 250.6,77.27 251.6,77.73 252.6,78.19 253.6,78.66 254.6,79.12 255.6,79.59 256.6,80.06 257.6,80.53 258.6,81.01 259.6,81.48 260.6,81.96 261.6,82.43 262.6,82.91 263.6,83.39 264.6,83.87 265.6,84.35 266.6,84.83 267.6,85.31 268.6,85.79 269.6,86.28 270.6,86.76 271.6,87.25 272.6,87.74 273.6,88.22 274.6,88.72 275.6,89.21 276.6,89.70 277.6,90.19 278.6,90.69 279.6,91.19 280.6,91.69 281.6,92.19 282.6,92.69 283.6,93.19 284.6,93.70 285.6,94.20 286.6,94.71 287.6,95.22 288.6,95.73 289.6,96.25 290.6,96.76 291.6,97.28 292.6,97.80 293.6,98.33 294.6,98.85 295.6,99.38 296.6,99.91 297.6,100.44 298.6,100.97 299.6,101.51 300.6,102.04 301.6,102.58 302.6,103.12 303.6,103.66 304.6,104.20 305.6,104.75 306.6,105.29 307.6,105.84 308.6,106.39 309.6,106.94 310.6,107.49 311.6,108.04 312.6,108.59 313.6,109.15 314.6,109.70 315.6,110.25 316.6,110.81 317.6,111.36 318.6,111.92 319.6,112.47 320.6,113.03 321.6,113.59 322.6,114.14 323.6,114.70 324.6,115.26 325.6,115.82 326.6,116.37 327.6,116.93 328.6,117.49 329.6,118.06 330.6,118.62 331.6,119.18 332.6,119.74 333.6,120.31 334.6,120.87 335.6,121.44 336.6,122.01 337.6,122.58 338.6,123.15 339.6,123.72 340.6,124.30 341.6,124.87 342.6,125.45 343.6,126.03 344.6,126.61 345.6,127.19 346.6,127.77 347.6,128.36 348.6,128.95 349.6,129.54 350.6,130.13 351.6,130.72 352.6,131.32 353.6,131.92 354.6,132.52 355.6,133.12 356.6,133.73 357.6,134.34 358.6,134.95 359.6,135.57 360.6,136.18 361.6,136.81 362.6,137.43 363.6,138.06 364.6,138.69 365.6,139.32 366.6,139.96 367.6,140.59 368.6,141.23 369.6,141.88 370.6,142.52 371.6,143.17 372.6,143.82 373.6,144.47 374.6,145.13 375.6,145.78 376.6,146.44 377.6,147.10 378.6,147.77 379.6,148.43 380.6,149.10 381.6,149.77 382.6,150.44 383.6,151.12 384.6,151.80 385.6,152.48 386.6,153.17 387.6,153.86 388.6,154.55 389.6,155.25 390.6,155.95 391.6,156.65 392.6,157.35 393.6,158.05 394.6,158.75 395.6,159.46 396.6,160.16 397.6,160.87 398.6,161.57 399.6,162.27 400.6,162.98 401.6,163.68 402.6,164.38 403.6,165.08 404.6,165.78 405.6,166.48 406.6,167.18 407.6,167.88 408.6,168.58 409.6,169.28 410.6,169.98 411.6,170.68 412.6,171.38 413.6,172.09 414.6,172.80 415.6,173.51 416.6,174.22 417.6,174.94 418.6,175.65 419.6,176.38 420.6,177.10 421.6,177.83 422.6,178.57 423.6,179.31 424.6,180.05 425.6,180.81 426.6,181.56 427.6,182.32 428.6,183.09 429.6,183.86 430.6,184.63 431.6,185.41 432.6,186.19 433.6,186.98 434.6,187.77 435.6,188.56 436.6,189.36 437.6,190.16 438.6,190.96 439.6,191.77 440.6,192.58 441.6,193.39 442.6,194.20 443.6,195.02 444.6,195.84 445.6,196.66 446.6,197.49 447.6,198.32 448.6,199.15 449.6,199.98 450.6,200.82 451.6,201.65 452.6,202.49 453.6,203.33 454.6,204.17 455.6,205.02 456.6,205.86 457.6,206.71 458.6,207.56 459.6,208.41 460.6,209.26 461.6,210.12 462.6,210.98 463.6,211.84 464.6,212.71 465.6,213.58 466.6,214.45 467.6,215.32 468.6,216.20 469.6,217.08 470.6,217.96 471.6,218.84 472.6,219.73 473.6,220.62 474.6,221.51 475.6,222.41 476.6,223.30 477.6,224.20 478.6,225.11 479.6,226.01 480.6,226.92 481.6,227.83 482.6,228.74 483.6,229.66 484.6,230.58 485.6,231.50 486.6,232.42 487.6,233.34 488.6,234.27 489.6,235.20 490.6,236.13 491.6,237.06 492.6,238.00 493.6,238.94 494.6,239.89 495.6,240.84 496.6,241.79 497.6,242.75 498.6,243.71 499.6,244.68 500.6,245.66 501.6,246.64 502.6,247.62 503.6,248.62 504.6,249.62 505.6,250.63 506.6,251.64 507.6,252.66 508.6,253.68 509.6,254.70 510.6,255.72 511.6,256.76 512.6,257.80 513.6,258.86 514.6,259.93 515.6,261.01 516.6,262.11 517.6,263.23 518.6,264.36 519.6,265.52 520.6,266.70 521.6,267.92 522.6,269.17 523.6,270.45 524.6,271.75 525.6,273.07 526.6,274.42 527.6,275.78 528.6,277.15 529.6,278.54 530.6,279.92 531.6,281.31 532.6,282.70 533.6,284.10 534.6,285.50 535.6,286.92 536.6,288.35 537.6,289.79 538.6,291.24 539.6,292.70 540.6,294.17 541.6,295.65 542.6,297.14 543.6,298.64 544.6,300.16 545.6,301.69 546.6,303.23 547.6,304.78 548.6,306.35 549.6,307.93 550.6,309.51 551.6,311.10 552.6,312.69 553.6,314.29 554.6,315.88 555.6,317.48 556.6,319.10 557.6,320.73 558.6,322.37 559.6,324.01 560.6,325.64 561.6,327.26 562.6,328.86 563.6,330.43 564.6,332.00 565.6,333.58 566.6,335.14 567.6,336.68 568.6,338.18 569.6,339.62 570.6,341.00 571.6,342.32 572.6,343.59 573.6,344.81 574.6,346.01 575.6,347.17 576.6,348.32 577.6,349.45 578.6,350.56 579.6,351.68 580.6,352.79 581.6,353.91 582.6,355.02 583.6,356.13 584.6,357.23 585.6,358.31 586.6,359.36 587.6,360.40 588.6,361.40 589.6,362.36 590.6,363.28 591.6,364.18 592.6,365.05 593.6,365.92 594.6,366.76 595.6,367.58 596.6,368.38 597.6,369.16 598.6,369.92 599.6,370.66 600.6,371.37 601.6,372.06 602.6,372.74 603.6,373.40 604.6,374.06 605.6,374.73 606.6,375.40 607.6,376.08 608.6,376.77 609.6,377.47 610.6,378.18 611.6,378.90 612.6,379.62 613.6,380.34 614.6,381.06 615.6,381.75 616.6,382.42 617.6,383.06 618.6,383.66 619.6,384.20 620.6,384.70 621.6,385.14 622.6,385.54 623.6,385.90 624.6,386.23 625.6,386.54 626.6,386.85 627.6,387.16 628.6,387.50 629.6,387.86 630.6,388.27 631.6,388.71 632.6,389.20 633.6,389.73 634.6,390.29 635.6,390.88 636.6,391.47 637.6,392.05 638.6,392.62 639.6,393.15 640.6,393.64 641.6,394.07 642.6,394.45 643.6,394.78 644.6,395.07 645.6,395.31 646.6,395.52 647.6,395.73 648.6,395.93 649.6,396.15 650.6,396.41 651.6,396.74 652.6,397.12 653.6,397.57 654.6,398.07 655.6,398.62 656.6,399.23 657.6,399.87 658.6,400.52 659.6,401.17 660.6,401.79 661.6,402.37 662.6,402.89 663.6,403.35 664.6,403.72 665.6,404.03 666.6,404.26 667.6,404.43 668.6,404.55 669.6,404.64 670.6,404.72 671.6,404.80 672.6,404.91 673.6,405.05 674.6,405.25 675.6,405.52 676.6,405.84 677.6,406.24 678.6,406.69 679.6,407.18 680.6,407.71 681.6,408.24 682.6,408.76 683.6,409.24 684.6,409.68 685.6,410.05 686.6,410.34 687.6,410.56 688.6,410.69 689.6,410.76 690.6,410.77 691.6,410.73 692.6,410.68 693.6,410.62 694.6,410.58 695.6,410.58 696.6,410.64 697.6,410.77 698.6,410.98 699.6,411.27 700.6,411.63 701.6,412.05 702.6,412.52 703.6,413.02 704.6,413.52 705.6,414.02 706.6,414.48 707.6,414.89 708.6,415.23 709.6,415.50 710.6,415.69 711.6,415.80 712.6,415.84 713.6,415.82 714.6,415.76 715.6,415.68 716.6,415.60 717.6,415.54 718.6,415.51 719.6,415.54 720.6,415.65 721.6,415.82 722.6,416.07 723.6,416.39 724.6,416.77 725.6,417.20 726.6,417.64 727.6,418.09 728.6,418.52 729.6,418.91 730.6,419.25 731.6,419.51 732.6,419.70 733.6,419.81 734.6,419.84 735.6,419.81 736.6,419.72 737.6,419.60 738.6,419.46 739.6,419.33 740.6,419.23 741.6,419.18 742.6,419.19 743.6,419.27 744.6,419.43 745.6,419.67 746.6,419.98 747.6,420.35 748.6,420.76 749.6,421.18 750.6,421.61 751.6,422.02 752.6,422.39 753.6,422.70 754.6,422.94 755.6,423.10 756.6,423.18 757.6,423.19 758.6,423.14 759.6,423.04 760.6,422.91 761.6,422.76 762.6,422.64 763.6,422.54 764.6,422.50 765.6,422.52 766.6,422.61 767.6,422.78 768.6,423.03 769.6,423.35 770.6,423.71 771.6,424.12 772.6,424.54 773.6,424.96 774.6,425.35 775.6,425.69 776.6,425.97 777.6,426.17 778.6,426.30 779.6,426.35 780.6,426.32 781.6,426.22 782.6,426.08 783.6,425.91 784.6,425.74 785.6,425.58 786.6,425.45 787.6,425.38 788.6,425.38 789.6,425.45 790.6,425.61 791.6,425.83 792.6,426.13 793.6,426.48 794.6,426.86 795.6,427.25 796.6,427.64 797.6,428.00 798.6,428.31 799.6,428.56 800.6,428.74 801.6,428.84 802.6,428.87 803.6,428.82 804.6,428.72 805.6,428.58 806.6,428.42 807.6,428.26 808.6,428.11 809.6,428.01 810.6,427.97 811.6,428.00 812.6,428.10 813.6,428.29 814.6,428.54 815.6,428.86 816.6,429.22 817.6,429.61 818.6,430.01 819.6,430.39 820.6,430.74 821.6,431.03 822.6,431.26 823.6,431.41 824.6,431.49 825.6,431.48 826.6,431.41 827.6,431.28 828.6,431.11 829.6,430.92 830.6,430.74 831.6,430.58 832.6,430.46 833.6,430.41 834.6,430.43 835.6,430.52 836.6,430.70 837.6,430.95 838.6,431.25 839.6,431.61 840.6,431.98 841.6,432.37 842.6,432.73 843.6,433.05 844.6,433.32 845.6,433.52 846.6,433.64 847.6,433.69 848.6,433.65 849.6,433.55 850.6,433.39 851.6,433.20 852.6,433.00 853.6,432.80 854.6,432.63 855.6,432.51 856.6,432.46 857.6,432.48 858.6,432.57 859.6,432.75 860.6,432.99 861.6,433.30 862.6,433.64 863.6,434.00 864.6,434.37 865.6,434.71 866.6,435.01 867.6,435.25 868.6,435.42 869.6,435.51 870.6,435.52 871.6,435.46 872.6,435.33 873.6,435.15 874.6,434.95 875.6,434.73 876.6,434.52 877.6,434.35 878.6,434.23 879.6,434.18 880.6,434.21 881.6,434.31 882.6,434.49 883.6,434.74 884.6,435.05 885.6,435.39 886.6,435.75 887.6,436.11 888.6,436.44 889.6,436.72 890.6,436.95 891.6,437.10 892.6,437.17 893.6,437.17 894.6,437.09 895.6,436.95 896.6,436.76 897.6,436.55 898.6,436.33 899.6,436.13 900.6,435.97 901.6,435.87 902.6,435.83 903.6,435.87 904.6,435.99 905.6,436.19 906.6,436.45 907.6,436.77 908.6,437.12 909.6,437.48 910.6,437.84 911.6,438.16 912.6,438.43 913.6,438.65 914.6,438.78 915.6,438.84 916.6,438.82 917.6,438.72 918.6,438.57 919.6,438.38 920.6,438.16 921.6,437.94 922.6,437.75 923.6,437.60 924.6,437.50 925.6,437.48 926.6,437.54 927.6,437.67 928.6,437.88 929.6,438.16 930.6,438.48 931.6,438.83 932.6,439.19 933.6,439.54 934.6,439.86 935.6,440.12 936.6,440.31 937.6,440.43 938.6,440.47 939.6,440.43 940.6,440.32 941.6,440.16 942.6,439.96 943.6,439.74 944.6,439.52 945.6,439.33 946.6,439.19 947.6,439.11 948.6,439.10 949.6,439.17 950.6,439.32 951.6,439.54 952.6,439.82 953.0,439.95"/></g>
<g transform="scale(1 1.3182)"><polyline fill="none" stroke="#000" stroke-width="4.4" stroke-linejoin="round" stroke-linecap="butt" points="158.6,38.54 159.6,38.80 160.6,39.07 161.6,39.34 162.6,39.62 163.6,39.90 164.6,40.19 165.6,40.49 166.6,40.79 167.6,41.10 168.6,41.42 169.6,41.74 170.6,42.06 171.6,42.39 172.6,42.73 173.6,43.07 174.6,43.42 175.6,43.78 176.6,44.15 177.6,44.52 178.6,44.91 179.6,45.30 180.6,45.69 181.6,46.09 182.6,46.50 183.6,46.91 184.6,47.32 185.6,47.74 186.6,48.15 187.6,48.57 188.6,48.99 189.6,49.41 190.6,49.83 191.6,50.24 192.6,50.67 193.6,51.09 194.6,51.52 195.6,51.95 196.6,52.39 197.6,52.83 198.6,53.27 199.6,53.71 200.6,54.16 201.6,54.60 202.6,55.05 203.6,55.49 204.6,55.94 205.6,56.38 206.6,56.83 207.6,57.27 208.6,57.71 209.6,58.15 210.6,58.58 211.6,59.02 212.6,59.46 213.6,59.89 214.6,60.33 215.6,60.76 216.6,61.20 217.6,61.63 218.6,62.07 219.6,62.50 220.6,62.93 221.6,63.37 222.6,63.81 223.6,64.24 224.6,64.68 225.6,65.12 226.6,65.56 227.6,65.99 228.6,66.43 229.6,66.88 230.6,67.32 231.6,67.76 232.6,68.21 233.6,68.66 234.6,69.10 235.6,69.55 236.6,70.00 237.6,70.45 238.6,70.90 239.6,71.35 240.6,71.80 241.6,72.25 242.6,72.71 243.6,73.16 244.6,73.62 245.6,74.07 246.6,74.53 247.6,74.99 248.6,75.45 249.6,75.91 250.6,76.37 251.6,76.83 252.6,77.30 253.6,77.76 254.6,78.23 255.6,78.70 256.6,79.17 257.6,79.65 258.6,80.12 259.6,80.59 260.6,81.07 261.6,81.55 262.6,82.02 263.6,82.50 264.6,82.98 265.6,83.46 266.6,83.94 267.6,84.43 268.6,84.91 269.6,85.39 270.6,85.88 271.6,86.37 272.6,86.86 273.6,87.35 274.6,87.84 275.6,88.33 276.6,88.82 277.6,89.32 278.6,89.82 279.6,90.31 280.6,90.81 281.6,91.32 282.6,91.82 283.6,92.32 284.6,92.83 285.6,93.34 286.6,93.85 287.6,94.36 288.6,94.87 289.6,95.39 290.6,95.90 291.6,96.42 292.6,96.94 293.6,97.47 294.6,97.99 295.6,98.52 296.6,99.05 297.6,99.59 298.6,100.12 299.6,100.66 300.6,101.19 301.6,101.73 302.6,102.27 303.6,102.82 304.6,103.36 305.6,103.91 306.6,104.45 307.6,105.00 308.6,105.55 309.6,106.10 310.6,106.65 311.6,107.20 312.6,107.75 313.6,108.31 314.6,108.86 315.6,109.42 316.6,109.97 317.6,110.53 318.6,111.08 319.6,111.64 320.6,112.19 321.6,112.75 322.6,113.31 323.6,113.86 324.6,114.42 325.6,114.98 326.6,115.54 327.6,116.10 328.6,116.66 329.6,117.22 330.6,117.78 331.6,118.35 332.6,118.91 333.6,119.48 334.6,120.04 335.6,120.61 336.6,121.18 337.6,121.75 338.6,122.32 339.6,122.90 340.6,123.47 341.6,124.05 342.6,124.62 343.6,125.20 344.6,125.79 345.6,126.37 346.6,126.95 347.6,127.54 348.6,128.13 349.6,128.72 350.6,129.32 351.6,129.91 352.6,130.51 353.6,131.11 354.6,131.71 355.6,132.32 356.6,132.93 357.6,133.54 358.6,134.15 359.6,134.77 360.6,135.39 361.6,136.01 362.6,136.64 363.6,137.27 364.6,137.90 365.6,138.53 366.6,139.17 367.6,139.81 368.6,140.45 369.6,141.10 370.6,141.74 371.6,142.39 372.6,143.05 373.6,143.70 374.6,144.36 375.6,145.01 376.6,145.67 377.6,146.34 378.6,147.00 379.6,147.66 380.6,148.33 381.6,149.00 382.6,149.68 383.6,150.36 384.6,151.04 385.6,151.73 386.6,152.42 387.6,153.11 388.6,153.81 389.6,154.50 390.6,155.20 391.6,155.90 392.6,156.60 393.6,157.31 394.6,158.01 395.6,158.71 396.6,159.42 397.6,160.12 398.6,160.83 399.6,161.53 400.6,162.24 401.6,162.94 402.6,163.64 403.6,164.34 404.6,165.04 405.6,165.74 406.6,166.43 407.6,167.13 408.6,167.83 409.6,168.53 410.6,169.24 411.6,169.94 412.6,170.64 413.6,171.35 414.6,172.06 415.6,172.77 416.6,173.48 417.6,174.20 418.6,174.92 419.6,175.65 420.6,176.38 421.6,177.11 422.6,177.85 423.6,178.59 424.6,179.34 425.6,180.10 426.6,180.86 427.6,181.62 428.6,182.39 429.6,183.16 430.6,183.94 431.6,184.72 432.6,185.50 433.6,186.29 434.6,187.08 435.6,187.88 436.6,188.67 437.6,189.48 438.6,190.28 439.6,191.09 440.6,191.90 441.6,192.71 442.6,193.53 443.6,194.35 444.6,195.17 445.6,196.00 446.6,196.83 447.6,197.65 448.6,198.49 449.6,199.32 450.6,200.16 451.6,200.99 452.6,201.83 453.6,202.67 454.6,203.52 455.6,204.36 456.6,205.21 457.6,206.05 458.6,206.91 459.6,207.76 460.6,208.61 461.6,209.47 462.6,210.33 463.6,211.20 464.6,212.07 465.6,212.94 466.6,213.81 467.6,214.68 468.6,215.56 469.6,216.44 470.6,217.33 471.6,218.21 472.6,219.10 473.6,219.99 474.6,220.88 475.6,221.78 476.6,222.68 477.6,223.58 478.6,224.49 479.6,225.39 480.6,226.30 481.6,227.21 482.6,228.13 483.6,229.05 484.6,229.97 485.6,230.89 486.6,231.81 487.6,232.74 488.6,233.66 489.6,234.59 490.6,235.53 491.6,236.46 492.6,237.40 493.6,238.34 494.6,239.29 495.6,240.24 496.6,241.20 497.6,242.16 498.6,243.13 499.6,244.10 500.6,245.08 501.6,246.06 502.6,247.05 503.6,248.05 504.6,249.06 505.6,250.07 506.6,251.08 507.6,252.10 508.6,253.12 509.6,254.14 510.6,255.17 511.6,256.21 512.6,257.26 513.6,258.32 514.6,259.40 515.6,260.49 516.6,261.60 517.6,262.73 518.6,263.87 519.6,265.04 520.6,266.24 521.6,267.47 522.6,268.73 523.6,270.02 524.6,271.33 525.6,272.66 526.6,274.01 527.6,275.38 528.6,276.75 529.6,278.14 530.6,279.53 531.6,280.92 532.6,282.31 533.6,283.71 534.6,285.12 535.6,286.54 536.6,287.97 537.6,289.41 538.6,290.87 539.6,292.33 540.6,293.81 541.6,295.29 542.6,296.79 543.6,298.29 544.6,299.81 545.6,301.34 546.6,302.89 547.6,304.44 548.6,306.01 549.6,307.59 550.6,309.18 551.6,310.77 552.6,312.36 553.6,313.96 554.6,315.55 555.6,317.15 556.6,318.77 557.6,320.41 558.6,322.05 559.6,323.69 560.6,325.32 561.6,326.93 562.6,328.53 563.6,330.09 564.6,331.67 565.6,333.24 566.6,334.79 567.6,336.32 568.6,337.80 569.6,339.23 570.6,340.58 571.6,341.88 572.6,343.13 573.6,344.34 574.6,345.52 575.6,346.68 576.6,347.81 577.6,348.94 578.6,350.05 579.6,351.17 580.6,352.28 581.6,353.40 582.6,354.51 583.6,355.61 584.6,356.70 585.6,357.77 586.6,358.81 587.6,359.83 588.6,360.81 589.6,361.75 590.6,362.66 591.6,363.55 592.6,364.42 593.6,365.26 594.6,366.09 595.6,366.90 596.6,367.70 597.6,368.48 598.6,369.25 599.6,370.00 600.6,370.75 601.6,371.48 602.6,372.21 603.6,372.93 604.6,373.65 605.6,374.36 606.6,375.06 607.6,375.77 608.6,376.46 609.6,377.15 610.6,377.83 611.6,378.50 612.6,379.15 613.6,379.80 614.6,380.44 615.6,381.06 616.6,381.66 617.6,382.25 618.6,382.82 619.6,383.38 620.6,383.91 621.6,384.43 622.6,384.94 623.6,385.43 624.6,385.91 625.6,386.38 626.6,386.83 627.6,387.28 628.6,387.72 629.6,388.15 630.6,388.58 631.6,389.00 632.6,389.42 633.6,389.83 634.6,390.24 635.6,390.65 636.6,391.07 637.6,391.48 638.6,391.89 639.6,392.31 640.6,392.73 641.6,393.16 642.6,393.59 643.6,394.03 644.6,394.48 645.6,394.93 646.6,395.38 647.6,395.83 648.6,396.28 649.6,396.73 650.6,397.17 651.6,397.61 652.6,398.04 653.6,398.46 654.6,398.87 655.6,399.27 656.6,399.67 657.6,400.07 658.6,400.47 659.6,400.86 660.6,401.25 661.6,401.64 662.6,402.03 663.6,402.41 664.6,402.79 665.6,403.16 666.6,403.53 667.6,403.89 668.6,404.24 669.6,404.59 670.6,404.93 671.6,405.26 672.6,405.59 673.6,405.90 674.6,406.21 675.6,406.50 676.6,406.79 677.6,407.07 678.6,407.34 679.6,407.61 680.6,407.87 681.6,408.13 682.6,408.38 683.6,408.62 684.6,408.86 685.6,409.10 686.6,409.33 687.6,409.56 688.6,409.79 689.6,410.01 690.6,410.23 691.6,410.46 692.6,410.68 693.6,410.90 694.6,411.11 695.6,411.33 696.6,411.55 697.6,411.77 698.6,412.00 699.6,412.22 700.6,412.45 701.6,412.67 702.6,412.90 703.6,413.13 704.6,413.36 705.6,413.58 706.6,413.81 707.6,414.04 708.6,414.26 709.6,414.48 710.6,414.70 711.6,414.91 712.6,415.13 713.6,415.34 714.6,415.54 715.6,415.74 716.6,415.93 717.6,416.12 718.6,416.31 719.6,416.49 720.6,416.67 721.6,416.85 722.6,417.02 723.6,417.19 724.6,417.36 725.6,417.53 726.6,417.70 727.6,417.86 728.6,418.03 729.6,418.19 730.6,418.35 731.6,418.50 732.6,418.66 733.6,418.82 734.6,418.97 735.6,419.12 736.6,419.27 737.6,419.42 738.6,419.57 739.6,419.72 740.6,419.87 741.6,420.02 742.6,420.17 743.6,420.31 744.6,420.46 745.6,420.60 746.6,420.75 747.6,420.89 748.6,421.04 749.6,421.18 750.6,421.33 751.6,421.47 752.6,421.62 753.6,421.77 754.6,421.91 755.6,422.06 756.6,422.21 757.6,422.35 758.6,422.50 759.6,422.64 760.6,422.79 761.6,422.94 762.6,423.08 763.6,423.23 764.6,423.37 765.6,423.51 766.6,423.65 767.6,423.79 768.6,423.93 769.6,424.07 770.6,424.21 771.6,424.35 772.6,424.48 773.6,424.62 774.6,424.75 775.6,424.88 776.6,425.01 777.6,425.14 778.6,425.26 779.6,425.39 780.6,425.51 781.6,425.63 782.6,425.74 783.6,425.86 784.6,425.97 785.6,426.08 786.6,426.19 787.6,426.29 788.6,426.40 789.6,426.51 790.6,426.61 791.6,426.72 792.6,426.82 793.6,426.93 794.6,427.03 795.6,427.14 796.6,427.25 797.6,427.36 798.6,427.47 799.6,427.58 800.6,427.70 801.6,427.81 802.6,427.93 803.6,428.05 804.6,428.17 805.6,428.30 806.6,428.42 807.6,428.54 808.6,428.66 809.6,428.79 810.6,428.91 811.6,429.03 812.6,429.15 813.6,429.27 814.6,429.39 815.6,429.50 816.6,429.61 817.6,429.73 818.6,429.83 819.6,429.94 820.6,430.05 821.6,430.15 822.6,430.26 823.6,430.36 824.6,430.47 825.6,430.57 826.6,430.67 827.6,430.77 828.6,430.88 829.6,430.98 830.6,431.08 831.6,431.18 832.6,431.28 833.6,431.37 834.6,431.47 835.6,431.57 836.6,431.66 837.6,431.76 838.6,431.85 839.6,431.95 840.6,432.04 841.6,432.14 842.6,432.23 843.6,432.32 844.6,432.41 845.6,432.50 846.6,432.59 847.6,432.68 848.6,432.77 849.6,432.85 850.6,432.94 851.6,433.03 852.6,433.11 853.6,433.20 854.6,433.28 855.6,433.36 856.6,433.45 857.6,433.53 858.6,433.61 859.6,433.69 860.6,433.77 861.6,433.85 862.6,433.93 863.6,434.00 864.6,434.08 865.6,434.16 866.6,434.23 867.6,434.31 868.6,434.39 869.6,434.46 870.6,434.53 871.6,434.61 872.6,434.68 873.6,434.76 874.6,434.83 875.6,434.90 876.6,434.97 877.6,435.05 878.6,435.12 879.6,435.19 880.6,435.26 881.6,435.33 882.6,435.41 883.6,435.48 884.6,435.55 885.6,435.62 886.6,435.69 887.6,435.76 888.6,435.84 889.6,435.91 890.6,435.98 891.6,436.05 892.6,436.13 893.6,436.20 894.6,436.27 895.6,436.34 896.6,436.42 897.6,436.49 898.6,436.56 899.6,436.64 900.6,436.71 901.6,436.78 902.6,436.86 903.6,436.93 904.6,437.00 905.6,437.07 906.6,437.15 907.6,437.22 908.6,437.29 909.6,437.37 910.6,437.44 911.6,437.51 912.6,437.58 913.6,437.66 914.6,437.73 915.6,437.80 916.6,437.87 917.6,437.94 918.6,438.02 919.6,438.09 920.6,438.16 921.6,438.23 922.6,438.30 923.6,438.38 924.6,438.45 925.6,438.52 926.6,438.59 927.6,438.66 928.6,438.73 929.6,438.80 930.6,438.88 931.6,438.95 932.6,439.02 933.6,439.09 934.6,439.16 935.6,439.23 936.6,439.30 937.6,439.37 938.6,439.44 939.6,439.51 940.6,439.59 941.6,439.66 942.6,439.73 943.6,439.80 944.6,439.87 945.6,439.94 946.6,440.01 947.6,440.08 948.6,440.15 949.6,440.22 950.6,440.29 951.6,440.36 952.6,440.43 953.0,440.46"/></g>
<g transform="scale(1 1.3182)"><polyline fill="none" stroke="#000" stroke-width="4.4" stroke-linejoin="round" stroke-linecap="butt" points="158.6,37.54 159.6,37.80 160.6,38.07 161.6,38.34 162.6,38.63 163.6,38.91 164.6,39.21 165.6,39.51 166.6,39.81 167.6,40.12 168.6,40.44 169.6,40.76 170.6,41.09 171.6,41.42 172.6,41.76 173.6,42.11 174.6,42.46 175.6,42.83 176.6,43.20 177.6,43.58 178.6,43.97 179.6,44.36 180.6,44.76 181.6,45.16 182.6,45.57 183.6,45.98 184.6,46.40 185.6,46.81 186.6,47.23 187.6,47.65 188.6,48.07 189.6,48.49 190.6,48.90 191.6,49.32 192.6,49.75 193.6,50.17 194.6,50.61 195.6,51.04 196.6,51.48 197.6,51.92 198.6,52.36 199.6,52.80 200.6,53.25 201.6,53.69 202.6,54.14 203.6,54.59 204.6,55.03 205.6,55.47 206.6,55.92 207.6,56.36 208.6,56.80 209.6,57.23 210.6,57.67 211.6,58.11 212.6,58.54 213.6,58.98 214.6,59.41 215.6,59.85 216.6,60.28 217.6,60.72 218.6,61.15 219.6,61.59 220.6,62.02 221.6,62.46 222.6,62.89 223.6,63.33 224.6,63.77 225.6,64.21 226.6,64.65 227.6,65.09 228.6,65.53 229.6,65.97 230.6,66.41 231.6,66.86 232.6,67.30 233.6,67.75 234.6,68.20 235.6,68.65 236.6,69.10 237.6,69.55 238.6,70.00 239.6,70.45 240.6,70.90 241.6,71.35 242.6,71.81 243.6,72.26 244.6,72.72 245.6,73.17 246.6,73.63 247.6,74.09 248.6,74.55 249.6,75.01 250.6,75.47 251.6,75.94 252.6,76.40 253.6,76.87 254.6,77.34 255.6,77.81 256.6,78.28 257.6,78.76 258.6,79.23 259.6,79.71 260.6,80.18 261.6,80.66 262.6,81.14 263.6,81.62 264.6,82.10 265.6,82.58 266.6,83.06 267.6,83.54 268.6,84.03 269.6,84.51 270.6,85.00 271.6,85.49 272.6,85.98 273.6,86.47 274.6,86.96 275.6,87.45 276.6,87.95 277.6,88.44 278.6,88.94 279.6,89.44 280.6,89.94 281.6,90.44 282.6,90.95 283.6,91.45 284.6,91.96 285.6,92.47 286.6,92.98 287.6,93.49 288.6,94.01 289.6,94.52 290.6,95.04 291.6,95.56 292.6,96.09 293.6,96.61 294.6,97.14 295.6,97.67 296.6,98.20 297.6,98.73 298.6,99.27 299.6,99.81 300.6,100.35 301.6,100.89 302.6,101.43 303.6,101.97 304.6,102.52 305.6,103.06 306.6,103.61 307.6,104.16 308.6,104.71 309.6,105.26 310.6,105.81 311.6,106.36 312.6,106.91 313.6,107.47 314.6,108.02 315.6,108.58 316.6,109.13 317.6,109.69 318.6,110.24 319.6,110.80 320.6,111.36 321.6,111.91 322.6,112.47 323.6,113.03 324.6,113.59 325.6,114.15 326.6,114.70 327.6,115.27 328.6,115.83 329.6,116.39 330.6,116.95 331.6,117.52 332.6,118.08 333.6,118.65 334.6,119.21 335.6,119.78 336.6,120.35 337.6,120.92 338.6,121.50 339.6,122.07 340.6,122.65 341.6,123.22 342.6,123.80 343.6,124.38 344.6,124.97 345.6,125.55 346.6,126.14 347.6,126.73 348.6,127.32 349.6,127.91 350.6,128.50 351.6,129.10 352.6,129.70 353.6,130.30 354.6,130.91 355.6,131.51 356.6,132.12 357.6,132.74 358.6,133.35 359.6,133.97 360.6,134.59 361.6,135.22 362.6,135.85 363.6,136.48 364.6,137.11 365.6,137.75 366.6,138.39 367.6,139.03 368.6,139.67 369.6,140.32 370.6,140.97 371.6,141.62 372.6,142.27 373.6,142.93 374.6,143.58 375.6,144.24 376.6,144.90 377.6,145.57 378.6,146.23 379.6,146.90 380.6,147.57 381.6,148.24 382.6,148.92 383.6,149.60 384.6,150.29 385.6,150.98 386.6,151.67 387.6,152.36 388.6,153.06 389.6,153.76 390.6,154.46 391.6,155.16 392.6,155.86 393.6,156.56 394.6,157.27 395.6,157.97 396.6,158.68 397.6,159.38 398.6,160.09 399.6,160.79 400.6,161.49 401.6,162.19 402.6,162.89 403.6,163.59 404.6,164.29 405.6,164.99 406.6,165.69 407.6,166.39 408.6,167.09 409.6,167.79 410.6,168.49 411.6,169.20 412.6,169.90 413.6,170.61 414.6,171.32 415.6,172.03 416.6,172.75 417.6,173.47 418.6,174.19 419.6,174.92 420.6,175.65 421.6,176.39 422.6,177.13 423.6,177.88 424.6,178.63 425.6,179.39 426.6,180.15 427.6,180.92 428.6,181.69 429.6,182.46 430.6,183.24 431.6,184.02 432.6,184.81 433.6,185.60 434.6,186.39 435.6,187.19 436.6,187.99 437.6,188.80 438.6,189.60 439.6,190.41 440.6,191.23 441.6,192.04 442.6,192.86 443.6,193.68 444.6,194.50 445.6,195.33 446.6,196.16 447.6,196.99 448.6,197.82 449.6,198.66 450.6,199.50 451.6,200.33 452.6,201.17 453.6,202.02 454.6,202.86 455.6,203.71 456.6,204.55 457.6,205.40 458.6,206.25 459.6,207.11 460.6,207.97 461.6,208.83 462.6,209.69 463.6,210.56 464.6,211.42 465.6,212.30 466.6,213.17 467.6,214.05 468.6,214.93 469.6,215.81 470.6,216.69 471.6,217.58 472.6,218.47 473.6,219.36 474.6,220.26 475.6,221.16 476.6,222.06 477.6,222.96 478.6,223.87 479.6,224.77 480.6,225.68 481.6,226.60 482.6,227.51 483.6,228.43 484.6,229.35 485.6,230.28 486.6,231.20 487.6,232.13 488.6,233.06 489.6,233.99 490.6,234.92 491.6,235.86 492.6,236.80 493.6,237.75 494.6,238.70 495.6,239.65 496.6,240.61 497.6,241.57 498.6,242.54 499.6,243.52 500.6,244.50 501.6,245.49 502.6,246.48 503.6,247.48 504.6,248.49 505.6,249.51 506.6,250.52 507.6,251.54 508.6,252.56 509.6,253.59 510.6,254.62 511.6,255.67 512.6,256.72 513.6,257.79 514.6,258.87 515.6,259.97 516.6,261.09 517.6,262.23 518.6,263.38 519.6,264.56 520.6,265.77 521.6,267.01 522.6,268.29 523.6,269.58 524.6,270.91 525.6,272.25 526.6,273.60 527.6,274.97 528.6,276.35 529.6,277.74 530.6,279.13 531.6,280.52 532.6,281.91 533.6,283.32 534.6,284.73 535.6,286.16 536.6,287.59 537.6,289.04 538.6,290.50 539.6,291.96 540.6,293.44 541.6,294.93 542.6,296.43 543.6,297.93 544.6,299.45 545.6,300.99 546.6,302.54 547.6,304.11 548.6,305.68 549.6,307.26 550.6,308.84 551.6,310.44 552.6,312.03 553.6,313.63 554.6,315.22 555.6,316.83 556.6,318.45 557.6,320.09 558.6,321.73 559.6,323.37 560.6,325.00 561.6,326.61 562.6,328.19 563.6,329.76 564.6,331.33 565.6,332.90 566.6,334.45 567.6,335.96 568.6,337.43 569.6,338.83 570.6,340.16 571.6,341.44 572.6,342.67 573.6,343.87 574.6,345.04 575.6,346.18 576.6,347.31 577.6,348.43 578.6,349.54 579.6,350.66 580.6,351.77 581.6,352.89 582.6,354.00 583.6,355.09 584.6,356.17 585.6,357.23 586.6,358.26 587.6,359.26 588.6,360.22 589.6,361.15 590.6,362.04 591.6,362.92 592.6,363.78 593.6,364.61 594.6,365.42 595.6,366.22 596.6,367.01 597.6,367.79 598.6,368.57 599.6,369.35 600.6,370.13 601.6,370.91 602.6,371.68 603.6,372.46 604.6,373.23 605.6,373.99 606.6,374.73 607.6,375.46 608.6,376.16 609.6,376.83 610.6,377.48 611.6,378.09 612.6,378.69 613.6,379.26 614.6,379.81 615.6,380.36 616.6,380.90 617.6,381.44 618.6,381.99 619.6,382.55 620.6,383.13 621.6,383.73 622.6,384.34 623.6,384.96 624.6,385.59 625.6,386.21 626.6,386.82 627.6,387.40 628.6,387.95 629.6,388.44 630.6,388.89 631.6,389.29 632.6,389.63 633.6,389.93 634.6,390.19 635.6,390.43 636.6,390.66 637.6,390.90 638.6,391.17 639.6,391.47 640.6,391.83 641.6,392.25 642.6,392.73 643.6,393.28 644.6,393.89 645.6,394.55 646.6,395.24 647.6,395.94 648.6,396.64 649.6,397.31 650.6,397.93 651.6,398.48 652.6,398.96 653.6,399.36 654.6,399.68 655.6,399.92 656.6,400.12 657.6,400.28 658.6,400.42 659.6,400.56 660.6,400.72 661.6,400.92 662.6,401.17 663.6,401.47 664.6,401.85 665.6,402.29 666.6,402.79 667.6,403.34 668.6,403.93 669.6,404.54 670.6,405.14 671.6,405.72 672.6,406.27 673.6,406.75 674.6,407.16 675.6,407.49 676.6,407.74 677.6,407.91 678.6,408.00 679.6,408.04 680.6,408.04 681.6,408.02 682.6,408.00 683.6,408.00 684.6,408.05 685.6,408.15 686.6,408.32 687.6,408.56 688.6,408.88 689.6,409.26 690.6,409.70 691.6,410.18 692.6,410.68 693.6,411.17 694.6,411.65 695.6,412.08 696.6,412.46 697.6,412.77 698.6,413.01 699.6,413.17 700.6,413.27 701.6,413.30 702.6,413.28 703.6,413.24 704.6,413.19 705.6,413.15 706.6,413.14 707.6,413.18 708.6,413.29 709.6,413.46 710.6,413.71 711.6,414.03 712.6,414.41 713.6,414.85 714.6,415.32 715.6,415.80 716.6,416.27 717.6,416.71 718.6,417.10 719.6,417.44 720.6,417.69 721.6,417.87 722.6,417.97 723.6,417.99 724.6,417.95 725.6,417.87 726.6,417.76 727.6,417.64 728.6,417.53 729.6,417.46 730.6,417.45 731.6,417.50 732.6,417.62 733.6,417.82 734.6,418.10 735.6,418.44 736.6,418.83 737.6,419.25 738.6,419.69 739.6,420.12 740.6,420.51 741.6,420.86 742.6,421.14 743.6,421.35 744.6,421.48 745.6,421.53 746.6,421.52 747.6,421.44 748.6,421.32 749.6,421.18 750.6,421.05 751.6,420.93 752.6,420.85 753.6,420.84 754.6,420.89 755.6,421.02 756.6,421.23 757.6,421.51 758.6,421.86 759.6,422.25 760.6,422.68 761.6,423.11 762.6,423.53 763.6,423.91 764.6,424.24 765.6,424.51 766.6,424.70 767.6,424.81 768.6,424.84 769.6,424.80 770.6,424.71 771.6,424.58 772.6,424.43 773.6,424.28 774.6,424.15 775.6,424.07 776.6,424.05 777.6,424.10 778.6,424.22 779.6,424.43 780.6,424.70 781.6,425.03 782.6,425.40 783.6,425.80 784.6,426.20 785.6,426.58 786.6,426.92 787.6,427.20 788.6,427.42 789.6,427.56 790.6,427.61 791.6,427.60 792.6,427.51 793.6,427.37 794.6,427.21 795.6,427.02 796.6,426.85 797.6,426.71 798.6,426.62 799.6,426.60 800.6,426.65 801.6,426.78 802.6,427.00 803.6,427.28 804.6,427.62 805.6,428.01 806.6,428.42 807.6,428.83 808.6,429.21 809.6,429.56 810.6,429.84 811.6,430.06 812.6,430.19 813.6,430.25 814.6,430.23 815.6,430.15 816.6,430.01 817.6,429.84 818.6,429.66 819.6,429.49 820.6,429.36 821.6,429.27 822.6,429.25 823.6,429.31 824.6,429.45 825.6,429.66 826.6,429.94 827.6,430.27 828.6,430.65 829.6,431.04 830.6,431.42 831.6,431.78 832.6,432.09 833.6,432.34 834.6,432.51 835.6,432.61 836.6,432.63 837.6,432.57 838.6,432.46 839.6,432.29 840.6,432.10 841.6,431.90 842.6,431.73 843.6,431.58 844.6,431.50 845.6,431.48 846.6,431.54 847.6,431.67 848.6,431.88 849.6,432.16 850.6,432.49 851.6,432.85 852.6,433.23 853.6,433.59 854.6,433.93 855.6,434.22 856.6,434.44 857.6,434.58 858.6,434.65 859.6,434.63 860.6,434.55 861.6,434.40 862.6,434.21 863.6,434.00 864.6,433.79 865.6,433.61 866.6,433.46 867.6,433.37 868.6,433.35 869.6,433.41 870.6,433.54 871.6,433.76 872.6,434.03 873.6,434.36 874.6,434.71 875.6,435.08 876.6,435.43 877.6,435.74 878.6,436.00 879.6,436.20 880.6,436.32 881.6,436.36 882.6,436.32 883.6,436.22 884.6,436.05 885.6,435.85 886.6,435.63 887.6,435.42 888.6,435.23 889.6,435.09 890.6,435.01 891.6,435.01 892.6,435.08 893.6,435.23 894.6,435.45 895.6,435.74 896.6,436.07 897.6,436.43 898.6,436.79 899.6,437.14 900.6,437.45 901.6,437.70 902.6,437.88 903.6,437.99 904.6,438.01 905.6,437.96 906.6,437.84 907.6,437.67 908.6,437.47 909.6,437.25 910.6,437.04 911.6,436.86 912.6,436.73 913.6,436.67 914.6,436.67 915.6,436.76 916.6,436.93 917.6,437.17 918.6,437.46 919.6,437.80 920.6,438.16 921.6,438.52 922.6,438.86 923.6,439.15 924.6,439.39 925.6,439.56 926.6,439.64 927.6,439.65 928.6,439.59 929.6,439.45 930.6,439.27 931.6,439.06 932.6,438.84 933.6,438.64 934.6,438.47 935.6,438.35 936.6,438.29 937.6,438.32 938.6,438.42 939.6,438.60 940.6,438.85 941.6,439.15 942.6,439.50 943.6,439.86 944.6,440.21 945.6,440.54 946.6,440.82 947.6,441.05 948.6,441.20 949.6,441.27 950.6,441.26 951.6,441.17 952.6,441.03 953.0,440.96"/></g>
<ellipse cx="158.6" cy="50.8" rx="2.7" ry="4.0" fill="#000"/>
<line x1="847.8" y1="51.0" x2="919.8" y2="51.0" stroke="#ff0000" stroke-width="3"/>
<line x1="847.8" y1="79.0" x2="919.8" y2="79.0" stroke="#00ff00" stroke-width="3"/>
<line x1="847.8" y1="106.8" x2="919.8" y2="106.8" stroke="#0000ff" stroke-width="3"/>
<line x1="847.8" y1="134.6" x2="919.8" y2="134.6" stroke="#ff00ff" stroke-width="3"/>
<line x1="847.8" y1="162.3" x2="919.8" y2="162.3" fill="none" stroke="#000" stroke-width="1.6" stroke-dasharray="5.6 11"/>
<rect x="158.5" y="33.5" width="794.5" height="583.0" fill="none" stroke="#000" stroke-width="3"/>
<g font-family="Liberation Sans, sans-serif" font-size="27.9" fill="#000" stroke="#000" stroke-width="0.4" opacity="0.999"><text transform="translate(141.8 608.3) scale(1 1.075)" text-anchor="end">0</text><text transform="translate(141.8 517.2) scale(1 1.075)" text-anchor="end">0.05</text><text transform="translate(141.8 426.0) scale(1 1.075)" text-anchor="end">0.1</text><text transform="translate(141.8 334.9) scale(1 1.075)" text-anchor="end">0.15</text><text transform="translate(141.8 243.8) scale(1 1.075)" text-anchor="end">0.2</text><text transform="translate(141.8 152.6) scale(1 1.075)" text-anchor="end">0.25</text><text transform="translate(141.8 61.5) scale(1 1.075)" text-anchor="end">0.3</text><text transform="translate(161.7 653.7) scale(1 1.075)" text-anchor="middle">0</text><text transform="translate(261.0 653.7) scale(1 1.075)" text-anchor="middle">50</text><text transform="translate(360.3 653.7) scale(1 1.075)" text-anchor="middle">100</text><text transform="translate(459.6 653.7) scale(1 1.075)" text-anchor="middle">150</text><text transform="translate(559.0 653.7) scale(1 1.075)" text-anchor="middle">200</text><text transform="translate(658.3 653.7) scale(1 1.075)" text-anchor="middle">250</text><text transform="translate(757.6 653.7) scale(1 1.075)" text-anchor="middle">300</text><text transform="translate(856.9 653.7) scale(1 1.075)" text-anchor="middle">350</text><text transform="translate(956.2 653.7) scale(1 1.075)" text-anchor="middle">400</text><text transform="translate(555.0 695.0) scale(1 1.075)" text-anchor="middle">Time [Orbits]</text><text transform="translate(37.8 324.3) rotate(-90) scale(1 1.075)" text-anchor="middle">Eccentricity</text><text transform="translate(831.6 58.3) scale(1 1.075)" text-anchor="end">e<tspan font-size="22.3" dy="7.4">0</tspan><tspan dy="-7.4">=0.0</tspan></text><text transform="translate(831.6 86.1) scale(1 1.075)" text-anchor="end">e<tspan font-size="22.3" dy="7.4">0</tspan><tspan dy="-7.4">=0.1</tspan></text><text transform="translate(831.6 113.9) scale(1 1.075)" text-anchor="end">e<tspan font-size="22.3" dy="7.4">0</tspan><tspan dy="-7.4">=0.2</tspan></text><text transform="translate(831.6 141.7) scale(1 1.075)" text-anchor="end">e<tspan font-size="22.3" dy="7.4">0</tspan><tspan dy="-7.4">=0.3</tspan></text><text transform="translate(831.6 171.7) scale(1 1.075)" text-anchor="end">Theo. Damping</text></g></svg>
</body></html>
